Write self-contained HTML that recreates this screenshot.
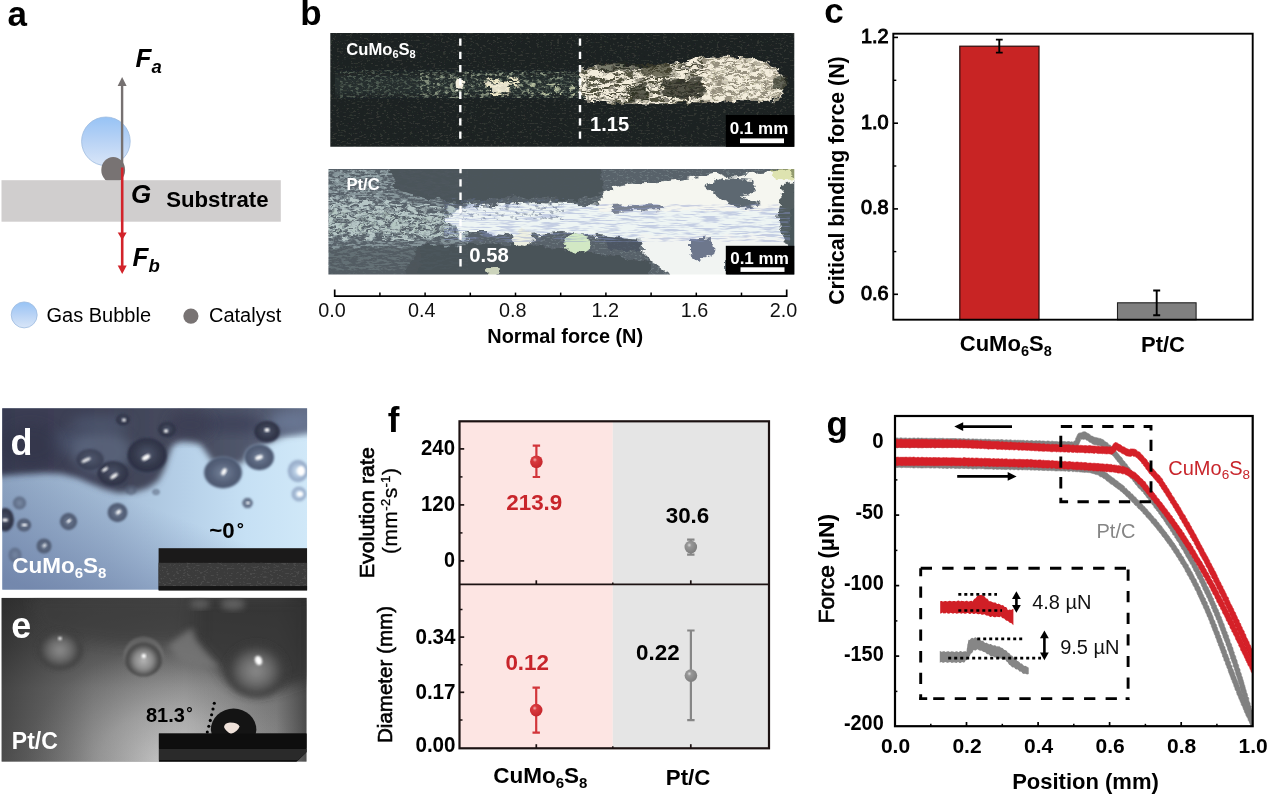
<!DOCTYPE html>
<html lang="en"><head><meta charset="utf-8"><title>Figure</title>
<style>
html,body{margin:0;padding:0;background:#fff;}
body{width:1268px;height:795px;overflow:hidden;}
svg{display:block;font-family:"Liberation Sans", sans-serif;}
</style></head><body>
<svg width="1268" height="795" viewBox="0 0 1268 795">
<defs>
<linearGradient id="bub" x1="0" y1="0" x2="0" y2="1"><stop offset="0" stop-color="#97c3f5"/><stop offset="0.5" stop-color="#b9d3f5"/><stop offset="1" stop-color="#d9e6f8"/></linearGradient>
<clipPath id="catclip"><rect x="90" y="150" width="50" height="30.2"/></clipPath>
<filter id="rough" x="-5%" y="-10%" width="110%" height="120%"><feTurbulence type="fractalNoise" baseFrequency="0.12 0.2" numOctaves="3" seed="4" result="n"/><feDisplacementMap in="SourceGraphic" in2="n" scale="9" xChannelSelector="R" yChannelSelector="G"/><feGaussianBlur stdDeviation="0.6"/></filter>
<filter id="rough2" x="-5%" y="-10%" width="110%" height="120%"><feTurbulence type="fractalNoise" baseFrequency="0.09 0.16" numOctaves="3" seed="11" result="n"/><feDisplacementMap in="SourceGraphic" in2="n" scale="10" xChannelSelector="R" yChannelSelector="G"/><feGaussianBlur stdDeviation="0.7"/></filter>
<filter id="spA" x="0" y="0" width="100%" height="100%"><feTurbulence type="fractalNoise" baseFrequency="0.25 0.5" numOctaves="3" seed="3" result="n"/><feColorMatrix in="n" type="matrix" values="0 0 0 0 1  0 0 0 0 1  0 0 0 0 1  0 0 0 6 -3.1" result="a"/><feComposite in="SourceGraphic" in2="a" operator="in"/><feGaussianBlur stdDeviation="0.55"/></filter>
<filter id="spB" x="0" y="0" width="100%" height="100%"><feTurbulence type="fractalNoise" baseFrequency="0.12 0.45" numOctaves="3" seed="8" result="n"/><feColorMatrix in="n" type="matrix" values="0 0 0 0 1  0 0 0 0 1  0 0 0 0 1  0 0 0 7 -3.2" result="a"/><feComposite in="SourceGraphic" in2="a" operator="in"/><feGaussianBlur stdDeviation="0.55"/></filter>
<filter id="spC" x="0" y="0" width="100%" height="100%"><feTurbulence type="fractalNoise" baseFrequency="0.3 0.6" numOctaves="3" seed="21" result="n"/><feColorMatrix in="n" type="matrix" values="0 0 0 0 1  0 0 0 0 1  0 0 0 0 1  0 0 0 8 -4.6" result="a"/><feComposite in="SourceGraphic" in2="a" operator="in"/><feGaussianBlur stdDeviation="0.55"/></filter>
<filter id="spD" x="0" y="0" width="100%" height="100%"><feTurbulence type="fractalNoise" baseFrequency="0.08 0.5" numOctaves="3" seed="5" result="n"/><feColorMatrix in="n" type="matrix" values="0 0 0 0 1  0 0 0 0 1  0 0 0 0 1  0 0 0 6 -2.6" result="a"/><feComposite in="SourceGraphic" in2="a" operator="in"/><feGaussianBlur stdDeviation="0.55"/></filter>
<filter id="spE" x="0" y="0" width="100%" height="100%"><feTurbulence type="fractalNoise" baseFrequency="0.2 0.3" numOctaves="3" seed="15" result="n"/><feColorMatrix in="n" type="matrix" values="0 0 0 0 1  0 0 0 0 1  0 0 0 0 1  0 0 0 7 -3.9" result="a"/><feComposite in="SourceGraphic" in2="a" operator="in"/><feGaussianBlur stdDeviation="0.55"/></filter>
<filter id="spF" x="0" y="0" width="100%" height="100%"><feTurbulence type="fractalNoise" baseFrequency="0.05 0.6" numOctaves="3" seed="9" result="n"/><feColorMatrix in="n" type="matrix" values="0 0 0 0 1  0 0 0 0 1  0 0 0 0 1  0 0 0 5 -2.3" result="a"/><feComposite in="SourceGraphic" in2="a" operator="in"/><feGaussianBlur stdDeviation="0.55"/></filter>
<clipPath id="cb1"><rect x="330.3" y="33" width="464" height="113.8"/></clipPath>
<clipPath id="cb2"><rect x="328.4" y="168.9" width="465.9" height="105.6"/></clipPath>
<linearGradient id="b1band" x1="0" y1="0" x2="0" y2="1"><stop offset="0" stop-color="#2e3a38" stop-opacity="0"/><stop offset="0.4" stop-color="#3a4a46" stop-opacity="1"/><stop offset="0.7" stop-color="#3a4a46" stop-opacity="1"/><stop offset="1" stop-color="#2e3a38" stop-opacity="0"/></linearGradient>
<filter id="soft1" x="0" y="0" width="100%" height="100%"><feGaussianBlur stdDeviation="0.7"/></filter>
<filter id="soft" x="0" y="0" width="100%" height="100%"><feGaussianBlur stdDeviation="0.7"/></filter>
<clipPath id="cd"><rect x="2.2" y="408.2" width="304.90000000000003" height="181.59999999999997"/></clipPath>
<linearGradient id="dbg" x1="0" y1="0" x2="1" y2="0"><stop offset="0" stop-color="#93aac6"/><stop offset="0.35" stop-color="#a4bcd6"/><stop offset="0.6" stop-color="#b6d0e8"/><stop offset="0.8" stop-color="#c6e0f4"/><stop offset="1" stop-color="#d0e8f8"/></linearGradient>
<linearGradient id="dbg2" x1="0.75" y1="0" x2="0.1" y2="1"><stop offset="0" stop-color="#7388ae" stop-opacity="0"/><stop offset="0.5" stop-color="#7388ae" stop-opacity="0"/><stop offset="1" stop-color="#7084aa" stop-opacity="0.9"/></linearGradient>
<linearGradient id="ddark" x1="0" y1="0" x2="1" y2="0"><stop offset="0" stop-color="#383a50"/><stop offset="0.3" stop-color="#3e4156"/><stop offset="0.6" stop-color="#474b5e"/><stop offset="0.85" stop-color="#545c72"/><stop offset="1" stop-color="#6a7690"/></linearGradient>
<filter id="bl3" x="-20%" y="-20%" width="140%" height="140%"><feGaussianBlur stdDeviation="3"/></filter>
<filter id="bl2" x="-20%" y="-20%" width="140%" height="140%"><feGaussianBlur stdDeviation="2"/></filter>
<filter id="bl1" x="-20%" y="-20%" width="140%" height="140%"><feGaussianBlur stdDeviation="1"/></filter>
<filter id="bl6" x="-30%" y="-30%" width="160%" height="160%"><feGaussianBlur stdDeviation="6"/></filter>
<filter id="bl10" x="-40%" y="-40%" width="180%" height="180%"><feGaussianBlur stdDeviation="10"/></filter>
<radialGradient id="dbub" cx="0.5" cy="0.45" r="0.55"><stop offset="0" stop-color="#4c546a"/><stop offset="0.55" stop-color="#363b4e"/><stop offset="0.85" stop-color="#2c3044"/><stop offset="1" stop-color="#465068" stop-opacity="0.6"/></radialGradient>
<radialGradient id="dbub2" cx="0.5" cy="0.5" r="0.5"><stop offset="0" stop-color="#74829a"/><stop offset="0.6" stop-color="#56627a"/><stop offset="0.9" stop-color="#4c5870"/><stop offset="1" stop-color="#8ea4c2" stop-opacity="0.3"/></radialGradient>
<radialGradient id="dbub3" cx="0.5" cy="0.5" r="0.5"><stop offset="0" stop-color="#dcebf8"/><stop offset="0.5" stop-color="#a8bcd6"/><stop offset="0.85" stop-color="#8ea2c0"/><stop offset="1" stop-color="#b4cce6" stop-opacity="0.2"/></radialGradient>
<clipPath id="ce"><rect x="1.4" y="597.8" width="305.3" height="164.0"/></clipPath>
<linearGradient id="ebg" x1="0" y1="0" x2="0" y2="1"><stop offset="0" stop-color="#444"/><stop offset="0.3" stop-color="#5c5c5c"/><stop offset="0.55" stop-color="#7c7c7c"/><stop offset="1" stop-color="#8e8e8e"/></linearGradient>
<radialGradient id="elight" cx="0.5" cy="0.5" r="0.5"><stop offset="0" stop-color="#cacaca" stop-opacity="1"/><stop offset="0.45" stop-color="#b8b8b8" stop-opacity="0.75"/><stop offset="1" stop-color="#a0a0a0" stop-opacity="0"/></radialGradient>
<linearGradient id="eleft" x1="0" y1="0" x2="1" y2="0"><stop offset="0" stop-color="#1e1e1e" stop-opacity="0.6"/><stop offset="0.3" stop-color="#2a2a2a" stop-opacity="0.2"/><stop offset="0.6" stop-color="#2a2a2a" stop-opacity="0"/><stop offset="0.9" stop-color="#2a2a2a" stop-opacity="0.1"/><stop offset="1" stop-color="#1a1a1a" stop-opacity="0.55"/></linearGradient>
<radialGradient id="ebub" cx="0.5" cy="0.55" r="0.5"><stop offset="0" stop-color="#8c8c8c"/><stop offset="0.45" stop-color="#6a6a6a"/><stop offset="0.8" stop-color="#3f3f3f"/><stop offset="1" stop-color="#3a3a3a" stop-opacity="0"/></radialGradient>
<radialGradient id="ebub2" cx="0.5" cy="0.6" r="0.5"><stop offset="0" stop-color="#b4b4b4"/><stop offset="0.45" stop-color="#8a8a8a"/><stop offset="0.78" stop-color="#4a4a4a"/><stop offset="0.92" stop-color="#555"/><stop offset="1" stop-color="#8a8a8a" stop-opacity="0.4"/></radialGradient>
<radialGradient id="ballr" cx="0.38" cy="0.35" r="0.7"><stop offset="0" stop-color="#f3b0b0"/><stop offset="0.25" stop-color="#d83a3e"/><stop offset="1" stop-color="#c4242a"/></radialGradient>
<radialGradient id="ballg" cx="0.38" cy="0.35" r="0.7"><stop offset="0" stop-color="#d8d8d8"/><stop offset="0.25" stop-color="#969696"/><stop offset="1" stop-color="#7c7c7c"/></radialGradient>
<clipPath id="cg"><rect x="895" y="416" width="357.70000000000005" height="310.20000000000005"/></clipPath>
</defs>
<rect width="1268" height="795" fill="#fff"/>
<g id="panel-a">
<text x="7.5" y="25.9" font-size="35" font-weight="bold" font-style="normal" fill="#000" text-anchor="start">a</text>
<rect x="1.5" y="180.2" width="279.3" height="41.5" fill="#d0cece"/>
<circle cx="105.9" cy="141.3" r="24.3" fill="url(#bub)" stroke="#9dbbe0" stroke-width="0.8"/>
<ellipse cx="113.2" cy="170" rx="11.9" ry="13" fill="#787373" clip-path="url(#catclip)"/>
<line x1="122.1" y1="168" x2="122.1" y2="84" stroke="#767171" stroke-width="2.4"/>
<polygon points="122.1,77 117.6,86 126.6,86" fill="#767171"/>
<line x1="122.2" y1="167.5" x2="122.2" y2="267" stroke="#d2232a" stroke-width="2.6"/>
<polygon points="122.2,240 117.7,232.5 126.7,232.5" fill="#d2232a"/>
<polygon points="122.2,274 117.7,265.5 126.7,265.5" fill="#d2232a"/>
<text x="135.5" y="67.1" font-size="26" font-weight="bold" font-style="italic" fill="#000" text-anchor="start">F<tspan font-size="18.5" dy="5.5">a</tspan></text>
<text x="131" y="203.3" font-size="26" font-weight="bold" font-style="italic" fill="#000" text-anchor="start">G</text>
<text x="132.5" y="265.6" font-size="26" font-weight="bold" font-style="italic" fill="#000" text-anchor="start">F<tspan font-size="18.5" dy="6">b</tspan></text>
<text x="166.2" y="207.3" font-size="22.2" font-weight="bold" font-style="normal" fill="#000" text-anchor="start">Substrate</text>
<circle cx="24.2" cy="314.9" r="13" fill="url(#bub)" stroke="#9dbbe0" stroke-width="0.8"/>
<text x="46.5" y="321.9" font-size="20" font-weight="normal" font-style="normal" fill="#000" text-anchor="start">Gas Bubble</text>
<circle cx="190.9" cy="316.1" r="7.6" fill="#787373"/>
<text x="209" y="321.9" font-size="20" font-weight="normal" font-style="normal" fill="#000" text-anchor="start">Catalyst</text>
</g>
<g id="panel-b">
<text x="300.3" y="24.7" font-size="35" font-weight="bold" font-style="normal" fill="#000" text-anchor="start">b</text>
<g clip-path="url(#cb1)"><g filter="url(#soft1)">
<rect x="320" y="23" width="485" height="134" fill="#1b2022"/>
<rect x="330" y="33" width="465" height="114" fill="#3a4038" filter="url(#spC)" opacity="0.7"/>
<rect x="335" y="66" width="250" height="36" fill="url(#b1band)" opacity="0.35"/>
<rect x="340" y="70" width="245" height="28" fill="#7f927f" filter="url(#spA)" opacity="0.42"/>
<rect x="420" y="72" width="165" height="26" fill="#a8b49a" filter="url(#spE)" opacity="0.7"/>
<g filter="url(#rough)">
<ellipse cx="459" cy="84" rx="4.5" ry="6" fill="#f4efe0"/>
<path d="M484,84 L492,79 L506,80 L512,76 L518,80 L520,84 L510,88 L512,94 L500,96 L490,94 Z" fill="#ece6c6" filter="url(#spD)"/>
<path d="M486,84 L500,81 L508,83 L508,90 L496,92 Z" fill="#f2ecd6" opacity="0.9"/>
<path d="M528,82 L560,84 L578,84 L578,96 L550,97 L528,94 Z" fill="#b8c0a0" filter="url(#spE)"/>
<path d="M579,83 L579,70 L607,63.5 L645,67.7 L677,62 L702,56.6 L740,57 L768,62 L779.6,71.5 L785,83 L781.5,97 L768,102 L730,101 L692.5,102.8 L654.6,103.5 L616.8,103.5 L584.6,100 L579,90.5 Z" fill="#f3eddc"/>
</g>
<g filter="url(#rough)">
<path d="M579,83 L579,70 L607,63.5 L645,67.7 L677,62 L702,56.6 L706,80 L704,102.6 L692.5,102.8 L654.6,103.5 L616.8,103.5 L584.6,100 L579,90.5 Z" fill="#2a2a1c" filter="url(#spD)" opacity="0.8"/>
<path d="M702,56.6 L740,57 L768,62 L779.6,71.5 L785,83 L781.5,97 L768,102 L730,101 L704,102.6 Z" fill="#3a3620" filter="url(#spD)" opacity="0.5"/>
<path d="M662,80 L700,78 L706,92 L690,99 L664,97 Z" fill="#2a2c22" opacity="0.8"/>
<path d="M628,86 L646,84 L648,100 L630,101 Z" fill="#2a2c22" opacity="0.75"/>
<path d="M640,64 L672,64 L670,76 L642,75 Z" fill="#3a3a28" opacity="0.7"/>
<path d="M596,62 L640,64 L640,70 L600,72 Z" fill="#2a2c22" opacity="0.6"/>
<path d="M772,78 L786,76 L786,90 L774,88 Z" fill="#2a2c22" opacity="0.7"/>
</g>
</g></g>
<line x1="460.3" y1="38.4" x2="460.3" y2="143" stroke="#fff" stroke-width="2.4" stroke-dasharray="7.3 6"/>
<line x1="580" y1="38.4" x2="580" y2="143" stroke="#fff" stroke-width="2.4" stroke-dasharray="7.3 6"/>
<text x="346.3" y="55" font-size="16.6" font-weight="bold" font-style="normal" fill="#fff" text-anchor="start">CuMo<tspan font-size="11" dy="3.2">6</tspan><tspan dy="-3.2">S</tspan><tspan font-size="11" dy="3.2">8</tspan></text>
<text x="590" y="130.8" font-size="20.1" font-weight="bold" font-style="normal" fill="#fff" text-anchor="start">1.15</text>
<rect x="725.8" y="115" width="68.5" height="31.8" fill="#000"/>
<text x="729.7" y="134.3" font-size="17" font-weight="bold" font-style="normal" fill="#fff" text-anchor="start">0.1 mm</text>
<rect x="740" y="138.4" width="44" height="4.8" fill="#fff"/>
<g clip-path="url(#cb2)"><g filter="url(#soft)">
<rect x="320" y="160" width="485" height="125" fill="#59626a"/>
<rect x="328" y="168" width="467" height="107" fill="#78868a" filter="url(#spC)" opacity="0.6"/>
<rect x="328" y="170" width="140" height="100" fill="#93a4a8" filter="url(#spB)" opacity="0.75"/>
<rect x="328" y="170" width="60" height="40" fill="#a8b8bc" filter="url(#spA)" opacity="0.7"/>
<g filter="url(#rough2)">
<path d="M328,198 L380,200 L420,204 L450,208 L470,204 L470,240 L440,238 L400,240 L360,238 L328,240 Z" fill="#b6c6c6" filter="url(#spB)"/>
<path d="M328,210 L380,212 L420,216 L450,218 L450,236 L400,236 L328,234 Z" fill="#b4c8c0" filter="url(#spA)" opacity="0.7"/>
<path d="M390,165 L470,165 L600,165 L604,192 L580,200 L560,200 L520,196 L480,200 L450,202 L420,196 L395,190 Z" fill="#4a5258" opacity="0.92"/>
<path d="M420,246 L520,244 L580,250 L650,262 L650,280 L400,280 Z" fill="#485056" opacity="0.92"/>
<path d="M328,246 L420,248 L420,280 L328,280 Z" fill="#4e585e" opacity="0.6"/>
<path d="M444,218 L462,208 L500,204 L540,202 L600,206 L790,204 L790,240 L640,240 L600,236 L560,232 L520,236 L490,232 L462,232 Z" fill="#eef5f4"/>
<path d="M598,204 L606,190 L630,184 L660,182 L700,176 L716,172 L730,178 L760,172 L790,170 L794,180 L794,210 L600,212 Z" fill="#f5f6f0"/>
<path d="M640,236 L790,236 L790,260 L726,262 L726,280 L676,280 L652,262 L640,250 Z" fill="#f1f4f2"/>
<ellipse cx="578" cy="244" rx="13" ry="10" fill="#d2e8c4"/>
<ellipse cx="523" cy="238" rx="10" ry="9" fill="#eef0e2"/>
<ellipse cx="493" cy="271" rx="8" ry="5" fill="#ccd4bc"/>
</g>
<g filter="url(#rough2)">
<path d="M706,186 L722,178 L752,180 L756,190 L740,196 L760,204 L740,208 L722,200 Z" fill="#4c5864" opacity="0.9"/>
<path d="M782,184 L800,180 L800,250 L784,244 L778,220 Z" fill="#4a545a" opacity="0.95"/>
<path d="M690,240 L712,238 L716,252 L700,262 L690,254 Z" fill="#56607a" opacity="0.85"/>
<path d="M610,206 L660,204 L662,210 L612,212 Z" fill="#5a6478" opacity="0.8"/>
<path d="M600,238 L640,240 L646,250 L610,250 Z" fill="#4a5462" opacity="0.8"/>
<path d="M770,170 L796,168 L796,178 L774,180 Z" fill="#c8d070" opacity="0.5"/>
</g>
<rect x="444" y="204" width="346" height="38" fill="#8896cc" filter="url(#spF)" opacity="0.4"/>
<rect x="444" y="198" width="120" height="22" fill="#5c6a84" filter="url(#spE)" opacity="0.5"/>
</g></g>
<line x1="460.5" y1="169" x2="460.5" y2="268.5" stroke="#fff" stroke-width="2.4" stroke-dasharray="7.3 6" stroke-dashoffset="3"/>
<text x="346.5" y="190.4" font-size="16.6" font-weight="bold" font-style="normal" fill="#fff" text-anchor="start">Pt/C</text>
<text x="469.3" y="261.7" font-size="20.3" font-weight="bold" font-style="normal" fill="#fff" text-anchor="start">0.58</text>
<rect x="725.8" y="245.8" width="68.5" height="28.7" fill="#000"/>
<text x="730.2" y="264.3" font-size="17" font-weight="bold" font-style="normal" fill="#fff" text-anchor="start">0.1 mm</text>
<rect x="740.5" y="267.3" width="44" height="4.6" fill="#fff"/>
<path d="M334.7,289.4 V296.2 H786.7 V289.4" fill="none" stroke="#000" stroke-width="1.7"/>
<line x1="379.9" y1="292.6" x2="379.9" y2="296.2" stroke="#000" stroke-width="1.5"/>
<line x1="425.1" y1="292.6" x2="425.1" y2="296.2" stroke="#000" stroke-width="1.5"/>
<line x1="470.3" y1="292.6" x2="470.3" y2="296.2" stroke="#000" stroke-width="1.5"/>
<line x1="515.5" y1="292.6" x2="515.5" y2="296.2" stroke="#000" stroke-width="1.5"/>
<line x1="560.7" y1="292.6" x2="560.7" y2="296.2" stroke="#000" stroke-width="1.5"/>
<line x1="605.9" y1="292.6" x2="605.9" y2="296.2" stroke="#000" stroke-width="1.5"/>
<line x1="651.1" y1="292.6" x2="651.1" y2="296.2" stroke="#000" stroke-width="1.5"/>
<line x1="696.3" y1="292.6" x2="696.3" y2="296.2" stroke="#000" stroke-width="1.5"/>
<line x1="741.5" y1="292.6" x2="741.5" y2="296.2" stroke="#000" stroke-width="1.5"/>
<text x="332" y="317.3" font-size="19.8" font-weight="normal" font-style="normal" fill="#111" text-anchor="middle">0.0</text>
<text x="421.7" y="317.3" font-size="19.8" font-weight="normal" font-style="normal" fill="#111" text-anchor="middle">0.4</text>
<text x="512.7" y="317.3" font-size="19.8" font-weight="normal" font-style="normal" fill="#111" text-anchor="middle">0.8</text>
<text x="605.3" y="317.3" font-size="19.8" font-weight="normal" font-style="normal" fill="#111" text-anchor="middle">1.2</text>
<text x="694.6" y="317.3" font-size="19.8" font-weight="normal" font-style="normal" fill="#111" text-anchor="middle">1.6</text>
<text x="783.5" y="317.3" font-size="19.8" font-weight="normal" font-style="normal" fill="#111" text-anchor="middle">2.0</text>
<text x="565.2" y="342.9" font-size="19.9" font-weight="bold" font-style="normal" fill="#000" text-anchor="middle">Normal force (N)</text>
</g>
<g id="panel-c">
<text x="824.3" y="23.3" font-size="35" font-weight="bold" font-style="normal" fill="#000" text-anchor="start">c</text>
<rect x="959.8" y="46.2" width="79.2" height="273.5" fill="#c82424" stroke="#2a0c0c" stroke-width="1.2"/>
<rect x="1117.5" y="302.8" width="78.6" height="17" fill="#808080" stroke="#222" stroke-width="1.1"/>
<rect x="893.3" y="33.7" width="359.4" height="286" fill="none" stroke="#000" stroke-width="1.9"/>
<line x1="894" y1="37.4" x2="898" y2="37.4" stroke="#000" stroke-width="1.6"/>
<text x="861.0" y="42.9" font-size="20.2" font-weight="normal" font-style="normal" fill="#000" text-anchor="start" stroke="#000" stroke-width="1.0" textLength="27.6" lengthAdjust="spacingAndGlyphs">1.2</text>
<line x1="894" y1="123.2" x2="898" y2="123.2" stroke="#000" stroke-width="1.6"/>
<text x="861.0" y="128.7" font-size="20.2" font-weight="normal" font-style="normal" fill="#000" text-anchor="start" stroke="#000" stroke-width="1.0" textLength="27.6" lengthAdjust="spacingAndGlyphs">1.0</text>
<line x1="894" y1="208.9" x2="898" y2="208.9" stroke="#000" stroke-width="1.6"/>
<text x="861.0" y="214.4" font-size="20.2" font-weight="normal" font-style="normal" fill="#000" text-anchor="start" stroke="#000" stroke-width="1.0" textLength="27.6" lengthAdjust="spacingAndGlyphs">0.8</text>
<line x1="894" y1="294.3" x2="898" y2="294.3" stroke="#000" stroke-width="1.6"/>
<text x="861.0" y="299.8" font-size="20.2" font-weight="normal" font-style="normal" fill="#000" text-anchor="start" stroke="#000" stroke-width="1.0" textLength="27.6" lengthAdjust="spacingAndGlyphs">0.6</text>
<line x1="894" y1="80.3" x2="896.3" y2="80.3" stroke="#000" stroke-width="1.4"/>
<line x1="894" y1="166" x2="896.3" y2="166" stroke="#000" stroke-width="1.4"/>
<line x1="894" y1="251.6" x2="896.3" y2="251.6" stroke="#000" stroke-width="1.4"/>
<path d="M995.9,39.6 H1002.6999999999999 M999.3,39.6 V52.6 M995.9,52.6 H1002.6999999999999" fill="none" stroke="#000" stroke-width="1.9"/>
<path d="M1153.2,290.5 H1160.2 M1156.7,290.5 V315.3 M1153.2,315.3 H1160.2" fill="none" stroke="#000" stroke-width="1.9"/>
<text x="959.8" y="351" font-size="22" font-weight="bold" font-style="normal" fill="#000" text-anchor="start">CuMo<tspan font-size="14.5" dy="4.6">6</tspan><tspan dy="-4.6">S</tspan><tspan font-size="14.5" dy="4.6">8</tspan></text>
<text x="1141" y="352" font-size="22" font-weight="bold" font-style="normal" fill="#000" text-anchor="start">Pt/C</text>
<text x="844" y="304.8" font-size="21.3" font-weight="bold" font-style="normal" fill="#000" text-anchor="start" transform="rotate(-90 844 304.8)">Critical binding force (N)</text>
</g>
<g id="panel-d">
<g clip-path="url(#cd)">
<rect x="2.2" y="408.2" width="304.90000000000003" height="181.59999999999997" fill="url(#dbg)"/>
<rect x="2.2" y="408.2" width="304.90000000000003" height="181.59999999999997" fill="url(#dbg2)"/>
<path d="M-10,395 H320 V432 L300,434 L285,436 L275,440 L262,446 L250,450 L244,462 L232,466 L214,464 L206,452 L200,444 L190,441 L180,441 L172,446 L168,458 L164,470 L158,481 L148,488 L135,492 L118,493 L104,489 L92,484 L78,478 L62,474 L45,473 L25,474 L-10,477 Z" fill="url(#ddark)" filter="url(#bl3)"/>
<ellipse cx="70" cy="442" rx="22" ry="12" fill="#4e5670" opacity="0.7" filter="url(#bl6)"/>
<ellipse cx="102" cy="452" rx="30" ry="22" fill="#5e6a82" opacity="0.75" filter="url(#bl6)"/>
<ellipse cx="30" cy="445" rx="30" ry="22" fill="#32344a" opacity="0.6" filter="url(#bl6)"/>
<ellipse cx="100" cy="424" rx="30" ry="9" fill="#505a72" opacity="0.7" filter="url(#bl6)"/>
<ellipse cx="232" cy="424" rx="30" ry="10" fill="#3c4058" opacity="0.8" filter="url(#bl6)"/>
<ellipse cx="290" cy="422" rx="20" ry="10" fill="#6c7a98" opacity="0.8" filter="url(#bl6)"/>
<ellipse cx="190" cy="425" rx="22" ry="14" fill="#3a3c52" opacity="0.8" filter="url(#bl6)"/>
<ellipse cx="147" cy="456" rx="20" ry="18" fill="url(#dbub)" filter="url(#bl1)" opacity="1"/>
<ellipse cx="146" cy="457.5" rx="4.5" ry="2.4" fill="#fff" transform="rotate(-30 146 457.5)" filter="url(#bl1)"/>
<ellipse cx="113" cy="474" rx="16" ry="13" fill="url(#dbub)" filter="url(#bl1)" opacity="0.85"/>
<ellipse cx="114" cy="476" rx="4.5" ry="1.8" fill="#fff" transform="rotate(-35 114 476)" filter="url(#bl1)"/>
<ellipse cx="105" cy="469.5" rx="3.5" ry="1.4" fill="#fff" transform="rotate(-35 105 469.5)" filter="url(#bl1)"/>
<ellipse cx="90" cy="460" rx="14" ry="11" fill="url(#dbub)" filter="url(#bl1)" opacity="0.6"/>
<ellipse cx="86" cy="460" rx="5" ry="1.6" fill="#fff" transform="rotate(-25 86 460)" filter="url(#bl1)"/>
<ellipse cx="223" cy="472.6" rx="20" ry="16.5" fill="url(#dbub2)" filter="url(#bl1)" opacity="1"/>
<ellipse cx="224" cy="471.8" rx="3.8" ry="2.2" fill="#fff" transform="rotate(-60 224 471.8)" filter="url(#bl1)"/>
<ellipse cx="259.3" cy="457.3" rx="15.5" ry="13.5" fill="url(#dbub2)" filter="url(#bl1)" opacity="1"/>
<ellipse cx="259" cy="457.5" rx="4" ry="2.2" fill="#fff" transform="rotate(-20 259 457.5)" filter="url(#bl1)"/>
<ellipse cx="267" cy="432" rx="13" ry="11" fill="url(#dbub)" filter="url(#bl1)" opacity="1"/>
<ellipse cx="267" cy="430" rx="2.6" ry="2" fill="#fff" transform="rotate(0 267 430)" filter="url(#bl1)"/>
<ellipse cx="167" cy="430" rx="9" ry="8" fill="url(#dbub)" filter="url(#bl1)" opacity="1"/>
<ellipse cx="166" cy="431" rx="2.2" ry="1.8" fill="#fff" transform="rotate(0 166 431)" filter="url(#bl1)"/>
<ellipse cx="123" cy="420" rx="7" ry="6" fill="url(#dbub)" filter="url(#bl1)" opacity="1"/>
<ellipse cx="124" cy="420" rx="2" ry="1.5" fill="#fff" transform="rotate(0 124 420)" filter="url(#bl1)"/>
<ellipse cx="298" cy="471" rx="11" ry="12" fill="url(#dbub3)" filter="url(#bl1)" opacity="0.9"/>
<ellipse cx="301" cy="471" rx="4" ry="5" fill="#fff" transform="rotate(0 301 471)" filter="url(#bl1)"/>
<ellipse cx="299" cy="494" rx="8" ry="8" fill="url(#dbub3)" filter="url(#bl1)" opacity="0.9"/>
<ellipse cx="300" cy="494" rx="3" ry="2.5" fill="#fff" transform="rotate(0 300 494)" filter="url(#bl1)"/>
<ellipse cx="117.5" cy="512.5" rx="10.5" ry="10" fill="url(#dbub2)" filter="url(#bl1)" opacity="1"/>
<ellipse cx="118.5" cy="512" rx="3" ry="1.8" fill="#fff" transform="rotate(-40 118.5 512)" filter="url(#bl1)"/>
<ellipse cx="68.5" cy="521.5" rx="9" ry="9" fill="url(#dbub2)" filter="url(#bl1)" opacity="1"/>
<ellipse cx="69" cy="521" rx="2.5" ry="1.4" fill="#fff" transform="rotate(-40 69 521)" filter="url(#bl1)"/>
<ellipse cx="24" cy="525" rx="7.5" ry="7" fill="url(#dbub2)" filter="url(#bl1)" opacity="1"/>
<ellipse cx="24.5" cy="525" rx="2.8" ry="1.3" fill="#fff" transform="rotate(0 24.5 525)" filter="url(#bl1)"/>
<ellipse cx="19.5" cy="503" rx="7" ry="7" fill="url(#dbub2)" filter="url(#bl1)" opacity="0.7"/>
<ellipse cx="44" cy="546" rx="8" ry="8" fill="url(#dbub2)" filter="url(#bl1)" opacity="1"/>
<ellipse cx="44.5" cy="545.5" rx="2.2" ry="1.3" fill="#fff" transform="rotate(-40 44.5 545.5)" filter="url(#bl1)"/>
<ellipse cx="5" cy="520" rx="9" ry="12" fill="url(#dbub)" filter="url(#bl1)" opacity="1"/>
<ellipse cx="5" cy="520" rx="3" ry="1.5" fill="#fff" transform="rotate(0 5 520)" filter="url(#bl1)"/>
<ellipse cx="247.5" cy="503" rx="5.5" ry="5.5" fill="url(#dbub2)" filter="url(#bl1)" opacity="0.85"/>
<ellipse cx="248" cy="503" rx="1.6" ry="1.4" fill="#fff" transform="rotate(0 248 503)" filter="url(#bl1)"/>
<ellipse cx="15" cy="555" rx="7" ry="8" fill="url(#dbub2)" filter="url(#bl1)" opacity="0.6"/>
<ellipse cx="131" cy="490" rx="6" ry="5" fill="url(#dbub2)" filter="url(#bl1)" opacity="0.6"/>
<ellipse cx="156" cy="492" rx="4" ry="3.5" fill="url(#dbub2)" filter="url(#bl1)" opacity="0.6"/>
<rect x="158.6" y="548.2" width="149" height="42" fill="#1b1a1a"/>
<rect x="158.6" y="562.8" width="149" height="23.4" fill="#3b3b3b"/>
<rect x="158.6" y="562.8" width="149" height="23.4" fill="#505050" filter="url(#spC)" opacity="0.8"/>
</g>
<rect x="158.6" y="586.2" width="148.5" height="4.4" fill="#151515"/>
<text x="10.6" y="455.4" font-size="36" font-weight="bold" font-style="normal" fill="#fff" text-anchor="start">d</text>
<text x="12.2" y="573" font-size="22.5" font-weight="bold" font-style="normal" fill="#fff" text-anchor="start">CuMo<tspan font-size="15" dy="4.8">6</tspan><tspan dy="-4.8">S</tspan><tspan font-size="15" dy="4.8">8</tspan></text>
<text x="209.3" y="538" font-size="22.3" font-weight="bold" font-style="normal" fill="#000" text-anchor="start">~0<tspan font-size="18" dy="-2.8" dx="2">°</tspan></text>
</g>
<g id="panel-e">
<g clip-path="url(#ce)">
<rect x="1.4" y="597.8" width="305.3" height="164.0" fill="url(#ebg)"/>
<ellipse cx="160" cy="765" rx="135" ry="115" fill="url(#elight)"/>
<rect x="1.4" y="597.8" width="305.3" height="164.0" fill="url(#eleft)"/>
<path d="M190,598 H310 V680 L295,684 L280,690 L260,694 L240,690 L226,680 L215,664 L205,652 L192,640 L186,628 Z" fill="#333" opacity="0.8" filter="url(#bl6)"/>
<path d="M30,598 H200 V640 L170,642 L120,644 L90,640 L60,636 L40,628 Z" fill="#3c3c3c" opacity="0.7" filter="url(#bl6)"/>
<path d="M168,646 L180,636 L192,628 L196,640 L206,654 L220,668 L200,668 L180,662 Z" fill="#757575" opacity="0.9" filter="url(#bl3)"/>
<ellipse cx="60" cy="648" rx="25" ry="22" fill="url(#ebub)" filter="url(#bl2)"/>
<circle cx="60" cy="638.5" r="1.8" fill="#eee" filter="url(#bl1)"/>
<circle cx="143.5" cy="656.5" r="20" fill="url(#ebub2)" filter="url(#bl1)"/>
<circle cx="143.8" cy="656" r="2.2" fill="#fff" filter="url(#bl1)"/>
<ellipse cx="256" cy="668" rx="33" ry="30" fill="url(#ebub)" filter="url(#bl3)"/>
<ellipse cx="258.5" cy="660.5" rx="3.5" ry="4.8" fill="#fff" filter="url(#bl1)" transform="rotate(-20 258.5 660.5)"/>
<ellipse cx="200" cy="604" rx="10" ry="5" fill="#5c5c5c" filter="url(#bl3)"/>
<ellipse cx="233" cy="604" rx="12" ry="6" fill="#5e5e5e" filter="url(#bl3)"/>
<path d="M158.9,733.6 H306.7 V752 L296,762.4 H158.9 Z" fill="#0e0e0e"/>
<path d="M158.9,749 H306.7 V752 L298,760 H158.9 Z" fill="#2a2a2a"/>
<path d="M212,735 L210.8,730 A22.8,21.5 0 0 1 256.4,730 L255.5,735 Z" fill="#141414"/>
<path d="M224,727 Q224.5,723 230,722.6 Q238,722.6 239.6,726.5 Q238,731 231,734 Q225.5,731 224,727 Z" fill="#efe2da"/>
</g>
<rect x="158.9" y="733.6" width="147.5" height="15" fill="#0e0e0e"/>
<circle cx="214.3" cy="703.2" r="1.55" fill="#000"/>
<circle cx="213" cy="709" r="1.55" fill="#000"/>
<circle cx="211.6" cy="714.8" r="1.55" fill="#000"/>
<circle cx="210.3" cy="720.4" r="1.55" fill="#000"/>
<circle cx="208.8" cy="726.2" r="1.55" fill="#000"/>
<circle cx="207.3" cy="732" r="1.55" fill="#000"/>
<text x="11.3" y="638.2" font-size="36" font-weight="bold" font-style="normal" fill="#fff" text-anchor="start">e</text>
<text x="11.8" y="749" font-size="23" font-weight="bold" font-style="normal" fill="#fff" text-anchor="start">Pt/C</text>
<text x="146" y="722.3" font-size="20" font-weight="bold" font-style="normal" fill="#000" text-anchor="start">81.3<tspan font-size="16" dy="-3" dx="1.2">°</tspan></text>
</g>
<g id="panel-f">
<text x="387.8" y="432.3" font-size="35" font-weight="bold" font-style="normal" fill="#000" text-anchor="start">f</text>
<rect x="459.5" y="421.3" width="153.3" height="327" fill="#fde5e3"/>
<rect x="612.8" y="421.3" width="156.2" height="327" fill="#e5e5e5"/>
<rect x="459.5" y="421.3" width="309.5" height="327" fill="none" stroke="#1c1212" stroke-width="2.2"/>
<line x1="459.5" y1="584.4" x2="769" y2="584.4" stroke="#1c1212" stroke-width="1.8"/>
<line x1="460" y1="448.9" x2="464.2" y2="448.9" stroke="#1c1212" stroke-width="1.7"/>
<text x="421.0" y="455.4" font-size="21.6" font-weight="bold" font-style="normal" fill="#000" text-anchor="start" textLength="34.0" lengthAdjust="spacingAndGlyphs">240</text>
<line x1="460" y1="504.9" x2="464.2" y2="504.9" stroke="#1c1212" stroke-width="1.7"/>
<text x="421.0" y="511.4" font-size="21.6" font-weight="bold" font-style="normal" fill="#000" text-anchor="start" textLength="34.0" lengthAdjust="spacingAndGlyphs">120</text>
<line x1="460" y1="560.9" x2="464.2" y2="560.9" stroke="#1c1212" stroke-width="1.7"/>
<text x="444.0" y="567.4" font-size="21.6" font-weight="bold" font-style="normal" fill="#000" text-anchor="start" textLength="11.0" lengthAdjust="spacingAndGlyphs">0</text>
<line x1="460" y1="476.9" x2="462.5" y2="476.9" stroke="#1c1212" stroke-width="1.5"/>
<line x1="460" y1="532.9" x2="462.5" y2="532.9" stroke="#1c1212" stroke-width="1.5"/>
<line x1="460" y1="637.1" x2="464.2" y2="637.1" stroke="#1c1212" stroke-width="1.7"/>
<text x="415.40000000000003" y="643.7" font-size="21.6" font-weight="bold" font-style="normal" fill="#000" text-anchor="start" textLength="40.2" lengthAdjust="spacingAndGlyphs">0.34</text>
<line x1="460" y1="692.3" x2="464.2" y2="692.3" stroke="#1c1212" stroke-width="1.7"/>
<text x="415.40000000000003" y="698.9" font-size="21.6" font-weight="bold" font-style="normal" fill="#000" text-anchor="start" textLength="40.2" lengthAdjust="spacingAndGlyphs">0.17</text>
<text x="415.40000000000003" y="752.0" font-size="21.6" font-weight="bold" font-style="normal" fill="#000" text-anchor="start" textLength="40.2" lengthAdjust="spacingAndGlyphs">0.00</text>
<line x1="460" y1="609.5" x2="462.5" y2="609.5" stroke="#1c1212" stroke-width="1.5"/>
<line x1="460" y1="664.7" x2="462.5" y2="664.7" stroke="#1c1212" stroke-width="1.5"/>
<line x1="460" y1="720" x2="462.5" y2="720" stroke="#1c1212" stroke-width="1.5"/>
<line x1="536.3" y1="584.4" x2="536.3" y2="580.3" stroke="#1c1212" stroke-width="1.7"/>
<line x1="536.3" y1="748.3" x2="536.3" y2="744.2" stroke="#1c1212" stroke-width="1.7"/>
<line x1="690.8" y1="584.4" x2="690.8" y2="580.3" stroke="#1c1212" stroke-width="1.7"/>
<line x1="690.8" y1="748.3" x2="690.8" y2="744.2" stroke="#1c1212" stroke-width="1.7"/>
<line x1="612.8" y1="584.4" x2="612.8" y2="582.4" stroke="#1c1212" stroke-width="1.5"/>
<line x1="612.8" y1="748.3" x2="612.8" y2="746.3" stroke="#1c1212" stroke-width="1.5"/>
<path d="M532.6999999999999,445.6 H540.1 M536.4,445.6 V477 M532.6999999999999,477 H540.1" fill="none" stroke="#d2353a" stroke-width="2.2"/>
<circle cx="536.4" cy="461.7" r="6.3" fill="url(#ballr)"/>
<path d="M687.0999999999999,539.6 H694.5 M690.8,539.6 V554.6 M687.0999999999999,554.6 H694.5" fill="none" stroke="#868686" stroke-width="2.2"/>
<circle cx="690.8" cy="547" r="6.3" fill="url(#ballg)"/>
<path d="M532.5,687.7 H539.9000000000001 M536.2,687.7 V732.6 M532.5,732.6 H539.9000000000001" fill="none" stroke="#d2353a" stroke-width="2.2"/>
<circle cx="536.2" cy="710.1" r="6.3" fill="url(#ballr)"/>
<path d="M687.1999999999999,630.5 H694.6 M690.9,630.5 V720.2 M687.1999999999999,720.2 H694.6" fill="none" stroke="#868686" stroke-width="2.2"/>
<circle cx="690.9" cy="675.6" r="6.3" fill="url(#ballg)"/>
<text x="534.3" y="509.7" font-size="22.4" font-weight="bold" font-style="normal" fill="#c8252b" text-anchor="middle">213.9</text>
<text x="687.5" y="522.5" font-size="22.4" font-weight="bold" font-style="normal" fill="#000" text-anchor="middle">30.6</text>
<text x="527.2" y="669.8" font-size="22.4" font-weight="bold" font-style="normal" fill="#c8252b" text-anchor="middle">0.12</text>
<text x="657.8" y="659.6" font-size="22.4" font-weight="bold" font-style="normal" fill="#000" text-anchor="middle">0.22</text>
<text x="493.2" y="783.2" font-size="22.5" font-weight="bold" font-style="normal" fill="#000" text-anchor="start">CuMo<tspan font-size="15" dy="4.8">6</tspan><tspan dy="-4.8">S</tspan><tspan font-size="15" dy="4.8">8</tspan></text>
<text x="665.8" y="785.4" font-size="22.3" font-weight="bold" font-style="normal" fill="#000" text-anchor="start">Pt/C</text>
<text x="373.8" y="578.2" font-size="20.8" font-weight="normal" font-style="normal" fill="#000" text-anchor="start" transform="rotate(-90 373.8 578.2)" stroke="#000" stroke-width="0.65" textLength="131" lengthAdjust="spacingAndGlyphs">Evolution rate</text>
<text x="397" y="554" font-size="21" font-weight="normal" font-style="normal" fill="#000" text-anchor="start" transform="rotate(-90 397 554)" stroke="#000" stroke-width="0.3" letter-spacing="0.42">(mm<tspan font-size="13" dy="-7">-2</tspan><tspan dy="7">s</tspan><tspan font-size="13" dy="-7">-1</tspan><tspan dy="7">)</tspan></text>
<text x="392.4" y="743" font-size="21" font-weight="normal" font-style="normal" fill="#000" text-anchor="start" transform="rotate(-90 392.4 743)" stroke="#000" stroke-width="0.6" textLength="137" lengthAdjust="spacingAndGlyphs">Diameter (mm)</text>
</g>
<g id="panel-g">
<text x="826.5" y="435.6" font-size="35" font-weight="bold" font-style="normal" fill="#000" text-anchor="start">g</text>
<line x1="895" y1="444.6" x2="899.2" y2="444.6" stroke="#000" stroke-width="1.7"/>
<text x="872.3" y="448.1" font-size="21.3" font-weight="bold" font-style="normal" fill="#000" text-anchor="start" textLength="11.4" lengthAdjust="spacingAndGlyphs">0</text>
<line x1="895" y1="515.1" x2="899.2" y2="515.1" stroke="#000" stroke-width="1.7"/>
<text x="855.5" y="518.8" font-size="21.3" font-weight="bold" font-style="normal" fill="#000" text-anchor="start" textLength="28.2" lengthAdjust="spacingAndGlyphs">-50</text>
<line x1="895" y1="585.6" x2="899.2" y2="585.6" stroke="#000" stroke-width="1.7"/>
<text x="843.9" y="589.9" font-size="21.3" font-weight="bold" font-style="normal" fill="#000" text-anchor="start" textLength="39.8" lengthAdjust="spacingAndGlyphs">-100</text>
<line x1="895" y1="656.1" x2="899.2" y2="656.1" stroke="#000" stroke-width="1.7"/>
<text x="843.9" y="660.5" font-size="21.3" font-weight="bold" font-style="normal" fill="#000" text-anchor="start" textLength="39.8" lengthAdjust="spacingAndGlyphs">-150</text>
<text x="843.9" y="730.3" font-size="21.3" font-weight="bold" font-style="normal" fill="#000" text-anchor="start" textLength="39.8" lengthAdjust="spacingAndGlyphs">-200</text>
<line x1="895" y1="479.9" x2="897.4" y2="479.9" stroke="#000" stroke-width="1.5"/>
<line x1="895" y1="550.4" x2="897.4" y2="550.4" stroke="#000" stroke-width="1.5"/>
<line x1="895" y1="620.9" x2="897.4" y2="620.9" stroke="#000" stroke-width="1.5"/>
<line x1="895" y1="691.4" x2="897.4" y2="691.4" stroke="#000" stroke-width="1.5"/>
<g clip-path="url(#cg)" stroke-linejoin="round">
<path d="M895.0,438.5 L896.0,437.9 L897.0,437.9 L898.0,437.9 L899.0,438.5 L900.0,437.9 L901.0,437.8 L902.0,438.0 L903.0,438.4 L904.0,438.0 L905.0,438.2 L906.0,437.8 L907.0,438.4 L908.0,438.5 L909.0,438.1 L910.0,438.1 L911.0,438.3 L912.0,438.5 L913.0,438.0 L914.0,438.0 L915.0,438.0 L916.0,438.7 L917.0,438.1 L918.0,437.9 L919.0,438.0 L920.0,438.6 L921.0,438.1 L922.0,438.1 L923.0,438.4 L924.0,438.3 L925.0,438.5 L926.0,438.1 L927.0,438.3 L928.0,438.4 L929.0,438.5 L930.0,438.2 L931.0,438.4 L932.0,438.2 L933.0,438.6 L934.0,438.3 L935.0,438.1 L936.0,438.3 L937.0,438.7 L938.0,438.4 L939.0,438.4 L940.0,438.2 L941.0,438.6 L942.0,438.3 L943.0,438.2 L944.0,438.4 L945.0,438.9 L946.0,438.5 L947.0,438.4 L948.0,438.5 L949.0,438.7 L950.0,438.6 L951.0,438.6 L952.0,438.6 L953.0,438.5 L954.0,438.6 L955.0,438.6 L956.0,438.4 L957.0,438.9 L958.0,438.7 L959.0,438.8 L960.1,438.6 L961.1,438.8 L962.1,439.1 L963.1,438.6 L964.1,438.7 L965.1,438.9 L966.1,439.1 L967.1,439.1 L968.1,438.7 L969.1,438.8 L970.1,439.3 L971.1,439.2 L972.1,439.0 L973.1,438.8 L974.1,439.3 L975.1,439.1 L976.1,439.1 L977.1,439.0 L978.1,439.3 L979.1,439.6 L980.1,439.0 L981.1,439.2 L982.1,439.4 L983.1,439.5 L984.1,439.4 L985.1,439.1 L986.1,439.2 L987.1,439.7 L988.1,439.3 L989.1,439.3 L990.1,439.5 L991.1,439.9 L992.1,439.7 L993.1,439.7 L994.1,439.6 L995.1,439.9 L996.1,439.7 L997.1,439.8 L998.1,439.4 L999.1,439.9 L1000.1,439.9 L1001.1,439.6 L1002.1,439.6 L1003.1,439.9 L1004.1,440.3 L1005.1,440.1 L1006.1,439.7 L1007.1,439.9 L1008.1,440.2 L1009.1,440.2 L1010.1,439.8 L1011.1,439.9 L1012.1,440.5 L1013.1,440.4 L1014.1,440.3 L1015.1,440.0 L1016.1,440.5 L1017.1,440.3 L1018.1,440.2 L1019.1,440.4 L1020.1,440.3 L1021.1,440.4 L1022.1,440.5 L1023.1,440.2 L1024.1,440.5 L1025.1,441.0 L1026.1,440.8 L1027.1,440.2 L1028.1,440.8 L1029.1,441.1 L1030.1,440.9 L1031.1,440.6 L1032.1,440.5 L1033.1,441.1 L1034.1,441.1 L1035.1,440.9 L1036.1,440.6 L1037.1,441.0 L1038.1,441.1 L1039.1,440.7 L1040.1,440.7 L1041.1,441.3 L1042.1,441.0 L1043.1,440.9 L1044.1,441.1 L1045.1,441.3 L1046.1,441.6 L1047.1,440.9 L1048.1,441.0 L1049.1,441.1 L1050.1,441.7 L1051.1,441.4 L1052.1,441.0 L1053.1,441.4 L1054.1,441.6 L1055.1,441.6 L1056.1,441.4 L1057.1,441.4 L1058.1,441.9 L1059.1,441.7 L1060.1,441.5 L1061.1,441.6 L1062.1,441.6 L1063.1,441.6 L1064.1,441.5 L1065.1,441.4 L1066.1,442.0 L1067.1,441.8 L1068.1,441.5 L1069.1,441.5 L1070.1,441.9 L1071.0,442.0 L1071.7,441.7 L1072.2,441.7 L1072.6,442.1 L1073.1,442.4 L1073.6,442.1 L1073.8,441.4 L1074.6,441.1 L1075.1,440.7 L1075.5,440.1 L1075.6,439.4 L1075.7,438.4 L1076.3,437.4 L1076.9,436.2 L1077.5,434.7 L1078.6,433.2 L1080.1,432.9 L1081.5,432.7 L1082.7,432.0 L1084.2,431.7 L1085.7,432.0 L1087.0,433.1 L1088.3,433.5 L1089.3,434.2 L1090.2,434.7 L1090.7,435.7 L1091.5,436.0 L1092.5,436.1 L1093.1,436.8 L1093.9,437.1 L1094.6,437.3 L1095.3,437.4 L1096.1,437.5 L1096.8,437.8 L1097.7,437.9 L1098.6,438.2 L1099.6,438.4 L1100.6,438.6 L1101.7,439.2 L1102.9,439.6 L1103.9,440.3 L1104.6,441.2 L1105.5,441.8 L1106.3,442.3 L1107.3,442.6 L1108.0,443.4 L1108.5,444.4 L1109.5,444.9 L1110.5,445.2 L1111.2,446.1 L1111.6,447.2 L1112.4,447.8 L1113.5,448.2 L1114.1,449.0 L1114.4,450.1 L1115.2,450.7 L1115.9,451.3 L1116.8,451.9 L1117.3,452.8 L1118.0,453.5 L1118.7,454.3 L1119.3,455.0 L1119.8,455.9 L1120.5,456.6 L1121.3,457.1 L1121.9,458.0 L1122.5,458.7 L1122.7,459.8 L1123.5,460.4 L1124.2,461.1 L1124.9,461.8 L1125.3,462.7 L1125.9,463.5 L1126.8,464.1 L1127.4,465.0 L1127.8,465.9 L1128.5,466.7 L1129.2,467.4 L1130.0,468.1 L1130.3,469.1 L1130.9,470.0 L1131.5,470.8 L1132.4,471.4 L1132.9,472.2 L1133.5,473.1 L1134.3,473.7 L1134.9,474.5 L1135.3,475.5 L1135.8,476.3 L1136.6,477.0 L1137.3,477.7 L1137.9,478.5 L1138.4,479.5 L1139.3,480.0 L1139.9,480.8 L1140.6,481.6 L1141.0,482.5 L1141.7,483.2 L1142.6,483.7 L1143.3,484.4 L1143.9,485.3 L1144.5,486.3 L1145.6,486.9 L1146.2,487.8 L1146.8,488.7 L1147.2,489.7 L1148.1,490.3 L1148.8,491.1 L1149.3,491.9 L1149.8,492.9 L1150.7,493.5 L1151.4,494.2 L1151.7,495.3 L1152.4,496.1 L1152.9,496.9 L1153.8,497.5 L1154.3,498.4 L1154.6,499.4 L1155.5,500.0 L1156.1,500.8 L1156.7,501.6 L1157.1,502.6 L1158.0,503.2 L1158.5,504.1 L1159.3,504.7 L1159.4,505.9 L1160.2,506.5 L1160.9,507.2 L1161.6,507.9 L1162.0,508.9 L1162.6,509.7 L1163.4,510.4 L1163.9,511.2 L1164.3,512.1 L1164.5,513.2 L1165.4,513.7 L1166.0,514.5 L1166.7,515.2 L1166.8,516.4 L1167.6,516.9 L1168.2,517.7 L1168.9,518.5 L1169.1,519.5 L1169.9,520.2 L1170.7,520.8 L1171.0,521.7 L1171.2,522.7 L1171.7,523.6 L1172.6,524.1 L1173.1,525.0 L1173.7,525.7 L1174.0,526.7 L1174.8,527.3 L1175.4,528.1 L1175.9,528.9 L1176.1,529.9 L1176.7,530.6 L1177.4,531.3 L1177.8,532.2 L1178.2,533.1 L1179.0,533.8 L1179.3,534.7 L1179.8,535.6 L1180.1,536.6 L1181.0,537.3 L1181.4,538.3 L1182.3,539.0 L1182.4,540.1 L1182.9,541.1 L1183.8,541.7 L1184.4,542.6 L1184.8,543.6 L1185.2,544.6 L1185.9,545.3 L1186.3,546.3 L1186.9,547.2 L1187.2,548.2 L1188.0,548.9 L1188.5,549.8 L1188.9,550.8 L1189.2,551.8 L1190.1,552.5 L1190.7,553.3 L1190.9,554.3 L1191.1,555.4 L1192.1,556.0 L1192.4,557.0 L1193.2,557.8 L1193.3,558.9 L1193.7,559.8 L1194.5,560.5 L1195.0,561.4 L1195.5,562.3 L1195.7,563.3 L1196.6,564.0 L1196.8,565.1 L1197.4,565.9 L1197.4,567.0 L1198.4,567.6 L1198.8,568.6 L1199.1,569.6 L1199.3,570.6 L1200.2,571.2 L1200.7,572.1 L1201.1,573.0 L1201.5,574.0 L1202.0,574.8 L1202.5,575.7 L1203.0,576.6 L1203.0,577.7 L1203.6,578.5 L1204.2,579.3 L1204.5,580.3 L1205.0,581.1 L1205.2,582.1 L1205.9,582.9 L1206.4,583.8 L1206.6,584.8 L1206.9,585.7 L1207.5,586.5 L1208.1,587.3 L1208.6,588.2 L1208.7,589.2 L1209.5,590.0 L1209.7,591.0 L1210.2,591.8 L1210.4,592.8 L1211.0,593.6 L1211.6,594.4 L1211.7,595.4 L1212.1,596.3 L1212.3,597.3 L1213.1,598.0 L1213.6,598.9 L1213.6,600.0 L1213.8,600.9 L1214.6,601.6 L1214.8,602.6 L1215.3,603.5 L1215.3,604.5 L1216.3,605.1 L1216.4,606.1 L1216.6,607.1 L1217.1,608.0 L1217.5,608.8 L1218.1,609.6 L1218.5,610.5 L1218.5,611.6 L1219.2,612.3 L1219.6,613.2 L1220.0,614.1 L1219.8,615.2 L1220.6,615.9 L1221.0,616.8 L1221.5,617.6 L1221.5,618.7 L1222.0,619.5 L1222.3,620.4 L1222.8,621.2 L1222.8,622.3 L1223.4,623.1 L1224.0,623.9 L1224.2,624.8 L1224.4,625.8 L1224.6,626.7 L1225.1,627.6 L1225.5,628.4 L1225.8,629.3 L1225.8,630.3 L1226.3,631.2 L1227.1,631.9 L1227.2,632.9 L1227.2,633.9 L1227.9,634.7 L1228.4,635.5 L1228.6,636.4 L1228.6,637.4 L1228.9,638.3 L1229.5,639.2 L1229.9,640.1 L1230.0,641.2 L1230.1,642.3 L1230.8,643.2 L1231.4,644.1 L1231.7,645.1 L1231.7,646.3 L1232.4,647.1 L1232.9,648.1 L1233.0,649.2 L1233.2,650.2 L1233.5,651.3 L1234.3,652.1 L1234.2,653.3 L1234.4,654.3 L1234.9,655.2 L1235.6,656.1 L1235.8,657.2 L1235.9,658.3 L1236.2,659.3 L1237.0,660.1 L1237.1,661.2 L1237.3,662.2 L1237.4,663.3 L1238.1,664.2 L1238.6,665.2 L1238.7,666.2 L1238.7,667.3 L1239.3,668.3 L1239.9,669.1 L1240.1,670.2 L1240.0,671.4 L1240.5,672.3 L1241.0,673.2 L1241.4,674.2 L1241.3,675.3 L1241.8,676.3 L1242.4,677.2 L1242.5,678.3 L1242.8,679.3 L1243.2,680.2 L1243.4,681.3 L1243.8,682.3 L1244.0,683.3 L1244.1,684.3 L1244.7,685.3 L1244.9,686.3 L1245.2,687.3 L1245.3,688.3 L1245.7,689.3 L1246.1,690.3 L1246.3,691.3 L1246.4,692.4 L1247.0,693.3 L1247.3,694.3 L1247.7,695.3 L1247.4,696.4 L1248.3,697.3 L1248.8,698.2 L1248.7,699.3 L1248.8,700.4 L1249.1,701.4 L1249.6,702.3 L1250.1,703.3 L1250.1,704.3 L1250.3,705.4 L1251.1,706.2 L1251.0,707.4 L1251.2,708.4 L1251.3,709.4 L1252.1,710.3 L1252.3,711.3 L1252.5,712.3 L1252.5,713.4 L1253.0,714.3 L1253.6,715.3 L1253.5,716.4 L1253.5,717.5 L1254.1,718.4 L1254.4,719.4 L1254.8,720.3 L1254.9,721.4 L1255.4,722.3 L1255.8,723.3 L1256.2,724.3 L1256.1,725.3 L1256.5,726.3 L1257.0,727.3 L1251.9,728.7 L1251.8,727.7 L1251.6,726.6 L1251.2,725.7 L1250.8,724.7 L1250.7,723.6 L1250.7,722.6 L1249.8,721.7 L1249.8,720.7 L1249.7,719.6 L1249.6,718.6 L1248.8,717.7 L1248.7,716.7 L1248.2,715.7 L1248.4,714.6 L1248.0,713.6 L1247.3,712.7 L1246.9,711.8 L1247.2,710.6 L1246.7,709.7 L1246.5,708.7 L1246.0,707.7 L1245.9,706.7 L1245.8,705.6 L1245.1,704.7 L1244.8,703.7 L1244.8,702.6 L1244.7,701.6 L1244.0,700.7 L1243.4,699.8 L1243.4,698.7 L1243.5,697.6 L1242.8,696.7 L1242.3,695.8 L1242.2,694.7 L1242.2,693.6 L1241.8,692.7 L1241.2,691.8 L1241.1,690.7 L1240.9,689.7 L1240.4,688.7 L1240.1,687.8 L1239.9,686.7 L1239.6,685.7 L1239.5,684.6 L1238.8,683.8 L1238.5,682.8 L1238.2,681.8 L1238.2,680.7 L1237.9,679.7 L1237.4,678.8 L1237.3,677.7 L1236.9,676.7 L1236.6,675.7 L1235.9,674.8 L1235.8,673.8 L1235.6,672.7 L1235.4,671.7 L1235.0,670.7 L1234.5,669.8 L1234.4,668.7 L1234.2,667.7 L1233.4,666.8 L1233.1,665.8 L1233.2,664.7 L1233.0,663.7 L1232.3,662.8 L1232.1,661.8 L1231.6,660.8 L1231.5,659.7 L1230.7,658.9 L1230.7,657.8 L1230.3,656.8 L1230.1,655.8 L1229.7,654.8 L1229.3,653.8 L1229.1,652.8 L1228.8,651.7 L1228.3,650.8 L1227.8,649.9 L1227.6,648.8 L1227.4,647.8 L1227.1,646.8 L1226.5,645.8 L1225.9,644.9 L1226.1,643.7 L1225.6,642.8 L1225.2,641.8 L1224.7,640.9 L1224.4,640.0 L1224.1,639.1 L1223.8,638.2 L1223.1,637.4 L1223.1,636.4 L1222.8,635.5 L1222.5,634.6 L1221.9,633.8 L1221.8,632.9 L1221.6,632.0 L1221.1,631.1 L1220.7,630.2 L1220.4,629.4 L1220.2,628.4 L1219.8,627.5 L1219.3,626.7 L1219.0,625.8 L1218.8,624.9 L1218.6,624.0 L1218.1,623.1 L1217.7,622.3 L1217.5,621.3 L1217.3,620.3 L1216.4,619.7 L1216.2,618.7 L1216.0,617.8 L1215.7,616.9 L1215.2,616.0 L1214.6,615.3 L1214.4,614.3 L1214.3,613.3 L1213.7,612.5 L1213.1,611.7 L1212.8,610.8 L1212.8,609.8 L1212.3,608.9 L1211.6,608.2 L1211.4,607.3 L1211.5,606.2 L1210.8,605.4 L1210.3,604.6 L1209.9,603.7 L1209.8,602.6 L1209.2,601.9 L1208.8,601.0 L1208.2,600.2 L1208.2,599.1 L1207.8,598.3 L1207.1,597.5 L1206.6,596.7 L1206.5,595.7 L1206.1,594.7 L1205.3,594.0 L1205.0,593.1 L1204.6,592.2 L1204.4,591.2 L1203.7,590.5 L1203.2,589.7 L1202.8,588.7 L1202.9,587.6 L1202.1,586.9 L1201.7,586.0 L1201.2,585.2 L1201.2,584.1 L1200.7,583.2 L1199.9,582.6 L1199.5,581.6 L1199.5,580.5 L1199.0,579.7 L1198.4,578.9 L1197.6,578.1 L1197.4,577.1 L1197.1,576.2 L1196.5,575.4 L1196.1,574.5 L1195.5,573.7 L1195.5,572.5 L1194.7,571.8 L1194.2,571.0 L1193.6,570.1 L1193.4,569.1 L1193.0,568.2 L1192.3,567.4 L1192.0,566.5 L1191.8,565.5 L1191.3,564.6 L1190.3,564.0 L1190.1,563.0 L1189.6,562.0 L1189.0,561.2 L1188.5,560.4 L1188.1,559.4 L1187.5,558.6 L1187.1,557.7 L1186.3,556.9 L1185.9,556.0 L1185.5,555.1 L1185.3,554.0 L1184.4,553.4 L1184.0,552.4 L1183.7,551.4 L1183.2,550.5 L1182.6,549.7 L1181.7,549.0 L1181.5,547.9 L1180.9,547.1 L1180.5,546.1 L1179.6,545.5 L1179.2,544.5 L1179.1,543.4 L1178.5,542.5 L1177.8,541.7 L1177.2,540.9 L1176.5,540.1 L1176.3,539.0 L1175.5,538.3 L1174.8,537.5 L1174.7,536.4 L1174.3,535.5 L1173.3,535.1 L1172.7,534.4 L1172.5,533.4 L1172.0,532.5 L1171.6,531.7 L1170.6,531.2 L1170.4,530.2 L1170.2,529.2 L1169.4,528.6 L1168.8,527.8 L1168.2,527.1 L1167.9,526.1 L1167.2,525.4 L1166.5,524.8 L1166.0,523.9 L1165.6,523.1 L1165.4,522.0 L1164.3,521.6 L1164.0,520.6 L1163.6,519.8 L1163.1,518.9 L1162.4,518.3 L1161.6,517.6 L1161.1,516.8 L1160.8,515.8 L1160.2,515.0 L1159.5,514.3 L1158.8,513.6 L1158.6,512.6 L1158.0,511.8 L1157.2,511.1 L1156.5,510.5 L1156.3,509.4 L1155.4,508.8 L1154.7,508.1 L1154.0,507.3 L1153.9,506.2 L1153.2,505.5 L1152.4,504.8 L1151.8,504.1 L1151.3,503.2 L1150.8,502.3 L1150.0,501.7 L1149.4,500.8 L1148.8,500.1 L1148.6,499.0 L1147.8,498.3 L1146.9,497.7 L1146.4,496.8 L1145.8,496.0 L1145.4,495.1 L1144.5,494.5 L1143.8,493.8 L1143.6,492.6 L1142.7,492.0 L1142.0,491.3 L1141.2,490.8 L1140.9,489.7 L1140.0,489.1 L1139.0,488.5 L1138.2,487.7 L1137.7,486.7 L1137.2,485.7 L1136.3,485.1 L1135.5,484.4 L1135.0,483.5 L1134.6,482.6 L1133.7,482.0 L1133.1,481.2 L1132.7,480.2 L1132.1,479.4 L1131.4,478.6 L1130.3,478.2 L1129.9,477.1 L1129.5,476.2 L1128.7,475.4 L1127.8,474.9 L1127.5,473.9 L1127.1,472.9 L1126.3,472.2 L1125.5,471.5 L1124.9,470.7 L1124.5,469.8 L1124.1,468.8 L1123.1,468.2 L1122.5,467.5 L1122.0,466.6 L1121.4,465.9 L1120.5,465.3 L1119.9,464.6 L1119.4,463.8 L1119.2,462.7 L1118.2,462.2 L1117.4,461.6 L1117.0,460.7 L1116.5,459.9 L1115.8,459.2 L1115.1,458.5 L1114.5,457.8 L1114.2,456.8 L1113.4,456.3 L1112.8,455.6 L1112.1,455.0 L1111.4,454.4 L1110.9,453.5 L1110.0,453.0 L1109.4,452.3 L1108.6,451.8 L1108.3,450.9 L1107.3,450.6 L1106.5,450.0 L1105.7,449.5 L1105.2,448.6 L1104.2,448.3 L1103.5,447.6 L1102.6,447.2 L1102.2,446.4 L1101.3,446.3 L1100.6,446.1 L1100.1,445.8 L1099.5,445.5 L1098.8,445.2 L1097.9,445.5 L1097.0,445.1 L1096.1,444.8 L1095.0,444.7 L1093.9,444.4 L1092.8,444.1 L1091.8,443.4 L1091.0,442.4 L1089.9,442.3 L1089.0,441.9 L1088.5,440.9 L1087.7,440.4 L1086.6,440.2 L1085.9,439.7 L1085.3,439.1 L1084.9,438.9 L1084.4,439.3 L1084.1,439.4 L1083.6,439.4 L1082.7,439.0 L1082.1,439.4 L1081.6,439.4 L1081.2,439.0 L1080.7,438.8 L1080.5,439.2 L1080.7,440.0 L1080.2,440.9 L1079.8,442.0 L1079.3,443.1 L1078.9,444.3 L1078.3,445.5 L1077.1,446.1 L1076.2,447.2 L1075.1,448.3 L1073.7,449.0 L1072.2,449.4 L1071.0,449.1 L1069.9,449.4 L1068.9,449.1 L1067.9,449.1 L1066.9,448.8 L1065.9,449.1 L1064.9,449.1 L1063.9,449.4 L1062.9,448.7 L1061.9,448.7 L1060.9,449.1 L1059.9,449.3 L1058.9,449.0 L1057.9,448.8 L1056.9,448.8 L1055.9,448.9 L1054.9,448.6 L1053.9,448.7 L1052.9,448.9 L1051.9,448.9 L1050.9,449.0 L1049.9,448.4 L1048.9,448.8 L1047.9,449.0 L1046.9,448.8 L1045.9,448.4 L1044.9,448.6 L1043.9,448.9 L1042.9,448.9 L1041.9,448.5 L1040.9,448.6 L1039.9,448.6 L1038.9,449.0 L1037.9,448.3 L1036.9,448.4 L1035.9,448.6 L1034.9,448.5 L1033.9,448.6 L1032.9,448.3 L1031.9,448.5 L1030.9,448.9 L1029.9,448.7 L1028.9,448.3 L1027.9,448.3 L1026.9,448.6 L1025.9,448.4 L1024.9,448.3 L1023.9,448.2 L1022.9,448.3 L1021.9,448.6 L1020.9,448.1 L1019.9,448.3 L1018.9,448.3 L1017.9,448.3 L1016.9,448.1 L1015.9,448.2 L1014.9,448.5 L1013.9,448.5 L1012.9,447.9 L1011.9,448.0 L1010.9,448.4 L1009.9,448.4 L1008.9,448.0 L1007.9,447.8 L1006.9,448.2 L1005.9,448.1 L1004.9,448.0 L1003.9,447.9 L1002.9,448.3 L1001.9,448.3 L1000.9,448.0 L999.9,448.0 L998.9,447.8 L997.9,448.2 L996.9,448.0 L995.9,447.6 L994.9,448.0 L993.9,448.0 L992.9,448.1 L991.9,447.7 L990.9,447.8 L989.9,447.9 L988.9,448.0 L987.9,448.0 L986.9,447.4 L985.9,448.0 L984.9,447.7 L983.9,447.5 L982.9,447.4 L981.9,447.9 L980.9,448.0 L979.9,447.9 L978.9,447.4 L977.9,447.7 L976.9,447.8 L975.9,447.8 L974.9,447.5 L973.9,447.7 L972.9,447.7 L971.9,447.8 L970.9,447.5 L969.9,447.1 L968.9,447.7 L967.9,447.5 L966.9,447.6 L965.9,447.1 L964.9,447.4 L963.9,447.6 L962.9,447.4 L961.9,447.0 L960.9,447.4 L959.9,447.3 L959.0,447.5 L958.0,447.0 L957.0,447.1 L956.0,447.3 L955.0,447.6 L954.0,447.3 L953.0,447.4 L952.0,447.6 L951.0,447.4 L950.0,447.3 L949.0,447.3 L948.0,447.4 L947.0,447.5 L946.0,447.2 L945.0,447.4 L944.0,447.5 L943.0,447.6 L942.0,447.5 L941.0,447.3 L940.0,447.2 L939.0,447.6 L938.0,447.5 L937.0,447.4 L936.0,447.3 L935.0,447.6 L934.0,447.7 L933.0,447.1 L932.0,447.4 L931.0,447.7 L930.0,447.4 L929.0,447.3 L928.0,447.5 L927.0,447.6 L926.0,447.7 L925.0,447.4 L924.0,447.3 L923.0,447.5 L922.0,447.7 L921.0,447.6 L920.0,447.3 L919.0,447.6 L918.0,447.6 L917.0,447.6 L916.0,447.2 L915.0,447.7 L914.0,447.5 L913.0,447.6 L912.0,447.1 L911.0,447.5 L910.0,447.6 L909.0,447.6 L908.0,447.3 L907.0,447.4 L906.0,447.6 L905.0,447.7 L904.0,447.3 L903.0,447.6 L902.0,447.8 L901.0,447.5 L900.0,447.5 L899.0,447.1 L898.0,447.8 L897.0,447.7 L896.0,447.5 L895.0,447.5Z" fill="#818181" stroke="#818181" stroke-width="0.6"/>
<path d="M895.1,457.9 L896.1,458.0 L897.1,457.6 L898.1,457.8 L899.1,458.1 L900.1,458.0 L901.1,457.9 L902.1,457.8 L903.1,458.0 L904.1,458.2 L905.1,458.2 L906.1,458.0 L907.1,458.3 L908.1,458.3 L909.1,458.2 L910.1,458.2 L911.1,458.3 L912.1,458.4 L913.1,458.1 L914.1,458.1 L915.1,458.3 L916.1,458.7 L917.1,458.2 L918.1,458.2 L919.1,458.5 L920.1,458.8 L921.1,458.6 L922.1,458.5 L923.1,458.3 L924.1,458.8 L925.1,458.6 L926.1,458.7 L927.1,458.5 L928.1,458.7 L929.1,458.7 L930.1,458.5 L931.1,458.7 L932.1,458.9 L933.1,459.2 L934.1,458.8 L935.1,458.7 L936.1,458.8 L937.1,459.1 L938.1,458.9 L939.1,458.8 L940.1,459.2 L941.1,459.6 L942.1,459.0 L943.1,459.1 L944.1,459.2 L945.1,459.6 L946.1,459.5 L947.1,459.3 L948.1,459.4 L949.1,459.7 L950.1,459.3 L951.1,459.4 L952.1,459.3 L953.1,459.3 L954.1,459.9 L955.1,459.4 L956.1,459.6 L957.1,459.8 L958.1,459.7 L959.1,459.4 L960.1,459.3 L961.1,459.7 L962.1,459.9 L963.1,459.9 L964.1,459.5 L965.1,459.7 L966.1,460.1 L967.1,459.7 L968.1,459.7 L969.1,460.1 L970.1,460.3 L971.1,460.3 L972.1,460.1 L973.1,460.0 L974.1,460.0 L975.1,460.4 L976.1,460.2 L977.1,460.0 L978.1,460.2 L979.1,460.6 L980.1,460.5 L981.1,460.3 L982.1,460.3 L983.1,460.9 L984.1,460.6 L985.1,460.4 L986.1,460.6 L987.1,461.0 L988.1,460.4 L989.1,460.5 L990.1,460.6 L991.1,461.0 L992.1,461.0 L993.1,460.5 L994.1,460.7 L995.1,460.9 L996.1,460.8 L997.1,461.1 L998.1,461.0 L999.1,460.9 L1000.1,461.5 L1001.1,461.1 L1002.1,461.1 L1003.1,461.4 L1004.1,461.5 L1005.1,461.4 L1006.1,461.2 L1007.1,461.3 L1008.1,461.5 L1009.1,461.6 L1010.1,461.4 L1011.1,461.3 L1012.1,461.6 L1013.1,461.5 L1014.1,461.3 L1015.1,461.5 L1016.1,461.6 L1017.1,461.8 L1018.1,461.4 L1019.1,461.4 L1020.1,461.9 L1021.1,462.0 L1022.1,461.8 L1023.1,461.5 L1024.1,461.8 L1025.1,462.2 L1026.1,462.1 L1027.1,462.0 L1028.1,461.8 L1029.1,462.3 L1030.1,462.2 L1031.1,461.9 L1032.1,462.2 L1033.1,462.6 L1034.2,462.1 L1035.1,462.4 L1036.2,462.2 L1037.1,462.4 L1038.1,462.5 L1039.2,462.2 L1040.1,462.4 L1041.1,462.7 L1042.1,462.8 L1043.1,462.7 L1044.1,462.6 L1045.1,462.7 L1046.1,463.0 L1047.2,462.6 L1048.2,462.6 L1049.1,462.8 L1050.1,463.4 L1051.1,463.1 L1052.2,462.7 L1053.1,463.3 L1054.1,463.3 L1055.1,463.2 L1056.1,463.3 L1057.1,463.1 L1058.1,463.3 L1059.1,463.7 L1060.1,463.2 L1061.1,463.2 L1062.1,463.8 L1063.1,463.9 L1064.1,463.5 L1065.1,463.5 L1066.1,463.9 L1067.1,464.1 L1068.2,463.7 L1069.2,463.6 L1070.2,463.8 L1071.2,464.2 L1072.3,463.9 L1073.3,464.1 L1074.3,464.2 L1075.3,464.3 L1076.3,464.2 L1077.3,464.0 L1078.3,464.5 L1079.3,464.7 L1080.3,464.9 L1081.3,464.3 L1082.3,464.6 L1083.3,465.0 L1084.3,465.1 L1085.3,464.9 L1086.3,464.7 L1087.3,465.0 L1088.4,465.3 L1089.5,465.2 L1090.7,465.2 L1091.8,465.8 L1092.8,466.4 L1093.9,466.3 L1094.9,466.7 L1095.9,467.1 L1096.8,467.8 L1097.9,468.0 L1099.1,468.3 L1100.1,469.0 L1101.0,469.8 L1102.0,470.2 L1103.1,470.4 L1103.9,471.2 L1104.8,471.7 L1105.6,472.6 L1106.6,473.0 L1107.6,473.6 L1108.4,474.3 L1109.1,475.0 L1110.0,475.6 L1110.8,476.2 L1111.6,476.7 L1112.2,477.6 L1113.2,477.9 L1114.1,478.4 L1114.8,479.1 L1115.2,480.1 L1116.3,480.3 L1117.1,480.9 L1118.0,481.3 L1118.5,482.3 L1119.3,482.8 L1120.2,483.3 L1121.0,483.9 L1121.8,484.5 L1122.6,485.1 L1123.5,485.7 L1124.3,486.3 L1124.7,487.4 L1125.4,488.2 L1126.5,488.4 L1127.0,489.3 L1127.7,490.1 L1128.3,490.9 L1129.2,491.3 L1130.1,491.8 L1130.6,492.7 L1131.0,493.7 L1132.2,493.9 L1133.0,494.6 L1133.6,495.4 L1134.1,496.4 L1135.0,496.9 L1136.0,497.4 L1136.5,498.4 L1137.0,499.3 L1137.9,499.9 L1138.8,500.5 L1139.7,501.1 L1140.0,502.2 L1140.8,502.9 L1141.5,503.6 L1142.2,504.3 L1142.9,505.0 L1143.3,506.0 L1144.5,506.4 L1145.0,507.2 L1145.6,508.1 L1146.2,508.8 L1147.2,509.3 L1147.7,510.2 L1148.3,511.0 L1148.9,511.8 L1149.7,512.4 L1150.3,513.1 L1151.1,513.7 L1151.5,514.7 L1152.1,515.5 L1152.9,516.1 L1153.5,516.8 L1153.9,517.8 L1154.7,518.4 L1155.7,518.9 L1156.4,519.8 L1156.9,520.6 L1157.2,521.7 L1158.3,522.2 L1158.9,523.1 L1159.5,524.0 L1159.9,524.9 L1161.0,525.4 L1161.6,526.3 L1162.2,527.1 L1162.4,528.2 L1163.4,528.7 L1163.9,529.6 L1164.6,530.4 L1165.1,531.3 L1165.9,532.0 L1166.7,532.7 L1167.0,533.7 L1167.7,534.4 L1168.3,535.3 L1168.9,536.1 L1169.6,536.8 L1169.9,537.8 L1170.7,538.4 L1171.3,539.2 L1171.8,540.1 L1172.4,540.9 L1172.9,541.7 L1173.5,542.5 L1174.3,543.2 L1174.7,544.1 L1175.0,545.1 L1175.9,545.6 L1176.3,546.5 L1176.8,547.4 L1177.3,548.2 L1178.0,548.9 L1178.7,549.6 L1179.1,550.6 L1179.4,551.6 L1179.9,552.5 L1180.7,553.3 L1181.4,554.1 L1181.6,555.2 L1182.4,556.0 L1183.1,556.8 L1183.8,557.6 L1183.9,558.7 L1184.6,559.6 L1185.0,560.6 L1185.7,561.4 L1186.1,562.3 L1186.6,563.2 L1187.3,564.0 L1188.1,564.8 L1188.4,565.8 L1188.5,566.9 L1189.3,567.7 L1190.0,568.5 L1190.5,569.4 L1190.8,570.4 L1191.2,571.3 L1192.1,571.9 L1192.3,573.0 L1192.9,573.9 L1193.3,574.8 L1193.8,575.7 L1194.2,576.6 L1194.5,577.6 L1195.0,578.5 L1195.9,579.1 L1196.3,580.1 L1196.5,581.1 L1196.9,582.1 L1197.4,582.9 L1198.2,583.7 L1198.5,584.6 L1198.6,585.7 L1199.3,586.4 L1200.0,587.2 L1200.3,588.2 L1200.3,589.3 L1201.0,590.0 L1201.5,590.9 L1202.0,591.8 L1202.3,592.8 L1202.5,593.7 L1203.1,594.5 L1203.7,595.4 L1203.8,596.4 L1204.3,597.3 L1204.9,598.1 L1205.6,598.8 L1205.5,600.0 L1205.8,600.9 L1206.6,601.6 L1207.2,602.4 L1207.4,603.4 L1207.3,604.5 L1207.8,605.3 L1208.8,606.0 L1209.0,606.9 L1209.0,608.0 L1209.5,608.8 L1210.2,609.6 L1210.2,610.6 L1210.7,611.5 L1211.1,612.4 L1211.7,613.1 L1211.8,614.2 L1212.3,615.0 L1212.6,615.9 L1213.1,616.8 L1213.3,617.7 L1213.4,618.7 L1213.8,619.6 L1214.5,620.4 L1214.9,621.2 L1215.1,622.2 L1215.1,623.2 L1215.8,624.0 L1216.5,624.7 L1216.6,625.7 L1216.6,626.8 L1217.3,627.5 L1217.6,628.4 L1217.8,629.4 L1217.9,630.4 L1218.7,631.1 L1219.1,631.9 L1219.4,632.9 L1219.5,633.8 L1219.7,634.8 L1220.6,635.5 L1220.8,636.4 L1220.8,637.4 L1221.4,638.2 L1221.8,639.1 L1222.0,640.0 L1222.3,640.9 L1222.4,641.9 L1223.1,642.7 L1223.5,643.5 L1223.8,644.4 L1223.8,645.5 L1224.4,646.2 L1225.0,647.0 L1225.1,648.0 L1225.1,649.0 L1225.8,649.8 L1226.2,650.6 L1226.5,651.5 L1226.6,652.5 L1226.7,653.5 L1227.5,654.2 L1227.8,655.1 L1228.0,656.0 L1228.3,656.9 L1228.7,657.8 L1229.2,658.6 L1229.3,659.6 L1229.3,660.6 L1230.0,661.4 L1230.6,662.1 L1230.7,663.1 L1230.5,664.2 L1231.2,664.9 L1231.8,665.7 L1232.2,666.6 L1231.9,667.7 L1232.3,668.6 L1233.1,669.3 L1233.3,670.2 L1233.6,671.1 L1234.0,672.0 L1234.4,672.8 L1234.7,673.7 L1234.7,674.8 L1235.1,675.6 L1235.7,676.4 L1236.1,677.3 L1236.1,678.3 L1236.6,679.1 L1236.9,680.0 L1237.5,680.8 L1237.7,681.8 L1237.9,682.7 L1238.3,683.5 L1238.8,684.4 L1239.0,685.3 L1239.0,686.4 L1239.9,687.0 L1240.2,687.9 L1240.3,688.9 L1240.7,689.8 L1240.9,690.7 L1241.5,691.5 L1241.9,692.4 L1241.9,693.4 L1242.3,694.3 L1243.0,695.0 L1243.6,695.8 L1243.7,696.8 L1243.8,697.8 L1244.3,698.7 L1244.9,699.4 L1245.2,700.3 L1245.4,701.3 L1245.7,702.2 L1246.2,703.0 L1246.5,704.0 L1246.7,704.9 L1247.2,705.8 L1248.0,706.5 L1248.1,707.5 L1248.4,708.4 L1248.9,709.2 L1249.3,710.1 L1249.6,711.0 L1249.8,712.0 L1250.4,712.8 L1251.2,713.5 L1251.5,714.4 L1251.8,715.4 L1251.8,716.4 L1252.4,717.2 L1253.1,718.0 L1253.5,718.9 L1253.4,720.0 L1254.4,720.6 L1254.8,721.5 L1254.9,722.5 L1255.4,723.4 L1256.0,724.2 L1256.4,725.1 L1256.7,726.1 L1257.0,727.0 L1252.8,729.1 L1252.3,728.2 L1251.6,727.4 L1251.3,726.5 L1251.4,725.3 L1250.5,724.7 L1250.1,723.8 L1249.6,722.9 L1249.4,721.9 L1248.8,721.1 L1248.2,720.3 L1248.1,719.2 L1247.8,718.3 L1247.2,717.5 L1246.7,716.6 L1246.1,715.8 L1245.9,714.8 L1245.6,713.9 L1245.2,713.0 L1244.5,712.2 L1244.3,711.3 L1244.1,710.3 L1243.5,709.5 L1243.2,708.5 L1242.9,707.6 L1242.8,706.6 L1242.0,705.9 L1241.6,705.0 L1241.1,704.2 L1241.2,703.0 L1240.5,702.3 L1240.2,701.4 L1239.9,700.5 L1239.4,699.6 L1239.0,698.8 L1238.7,697.8 L1238.4,696.9 L1238.1,696.0 L1237.6,695.2 L1237.0,694.4 L1236.9,693.4 L1236.5,692.5 L1236.6,691.4 L1235.9,690.7 L1235.2,689.9 L1235.0,689.0 L1234.9,688.0 L1234.5,687.1 L1233.9,686.3 L1233.8,685.3 L1233.6,684.4 L1233.1,683.5 L1232.7,682.7 L1232.2,681.8 L1232.3,680.8 L1231.6,680.0 L1231.2,679.2 L1231.0,678.2 L1230.7,677.3 L1230.3,676.4 L1230.0,675.5 L1229.6,674.6 L1229.3,673.7 L1228.9,672.9 L1228.6,672.0 L1228.4,671.1 L1228.0,670.2 L1228.1,669.1 L1227.3,668.4 L1226.9,667.6 L1226.8,666.6 L1226.4,665.7 L1225.9,664.9 L1225.6,664.0 L1225.4,663.0 L1225.4,662.0 L1224.6,661.3 L1224.0,660.5 L1223.9,659.6 L1223.8,658.6 L1223.5,657.7 L1222.7,657.0 L1222.6,656.0 L1222.4,655.1 L1222.2,654.1 L1221.7,653.3 L1221.1,652.5 L1221.1,651.5 L1220.7,650.6 L1220.3,649.8 L1220.1,648.9 L1219.7,648.0 L1219.5,647.1 L1219.1,646.2 L1218.4,645.4 L1218.3,644.4 L1218.2,643.5 L1217.6,642.7 L1217.2,641.8 L1216.9,640.9 L1216.9,639.9 L1216.3,639.1 L1216.1,638.2 L1215.5,637.4 L1215.4,636.4 L1215.2,635.5 L1214.6,634.7 L1214.3,633.8 L1214.0,632.9 L1213.8,632.0 L1213.3,631.1 L1212.8,630.3 L1212.6,629.4 L1212.3,628.4 L1211.9,627.6 L1211.4,626.8 L1211.3,625.8 L1211.2,624.8 L1210.4,624.1 L1210.0,623.2 L1209.9,622.2 L1209.7,621.3 L1209.2,620.4 L1208.7,619.6 L1208.5,618.7 L1208.3,617.7 L1207.8,616.9 L1207.0,616.2 L1207.0,615.2 L1206.7,614.2 L1206.2,613.4 L1205.7,612.6 L1205.4,611.6 L1205.1,610.7 L1204.8,609.8 L1204.4,608.9 L1203.7,608.2 L1203.4,607.3 L1203.2,606.3 L1202.9,605.4 L1202.2,604.6 L1201.7,603.8 L1201.6,602.8 L1201.1,601.9 L1200.6,601.1 L1200.3,600.2 L1199.9,599.3 L1199.5,598.4 L1199.1,597.5 L1198.5,596.7 L1198.3,595.7 L1197.8,594.9 L1197.3,594.0 L1197.0,593.1 L1196.8,592.1 L1196.5,591.1 L1195.6,590.5 L1195.1,589.6 L1194.8,588.7 L1194.8,587.6 L1194.0,586.9 L1193.6,586.0 L1192.9,585.2 L1192.7,584.2 L1192.3,583.3 L1191.6,582.5 L1191.2,581.6 L1191.0,580.6 L1190.3,579.8 L1189.7,579.0 L1189.4,578.1 L1189.0,577.1 L1188.5,576.3 L1187.8,575.5 L1187.2,574.7 L1187.1,573.6 L1186.5,572.8 L1185.9,571.9 L1185.2,571.2 L1185.2,570.0 L1184.7,569.2 L1184.1,568.3 L1183.5,567.5 L1182.9,566.6 L1182.7,565.6 L1182.0,564.8 L1181.3,564.0 L1180.6,563.2 L1180.5,562.0 L1179.9,561.2 L1179.0,560.6 L1178.5,559.7 L1178.3,558.6 L1177.6,557.8 L1176.9,556.9 L1176.3,556.1 L1175.9,555.1 L1175.5,554.1 L1174.7,553.5 L1174.1,552.7 L1173.6,551.9 L1173.4,550.8 L1172.5,550.3 L1171.9,549.5 L1171.6,548.6 L1171.2,547.6 L1170.5,547.0 L1169.7,546.3 L1169.3,545.5 L1168.9,544.6 L1168.3,543.8 L1167.4,543.3 L1167.0,542.3 L1166.4,541.5 L1165.8,540.8 L1165.2,540.0 L1164.7,539.1 L1164.4,538.2 L1163.5,537.6 L1162.8,536.9 L1162.2,536.1 L1161.7,535.2 L1161.2,534.3 L1160.5,533.6 L1159.7,532.9 L1159.2,532.1 L1158.8,531.1 L1157.8,530.6 L1157.3,529.7 L1156.7,528.9 L1156.2,528.0 L1155.5,527.2 L1154.7,526.5 L1154.1,525.7 L1153.5,524.9 L1152.9,523.9 L1152.0,523.4 L1151.2,522.7 L1150.9,521.7 L1150.4,520.9 L1149.5,520.3 L1148.9,519.6 L1148.3,518.8 L1147.6,518.1 L1146.9,517.5 L1146.1,516.9 L1145.8,515.8 L1145.3,515.0 L1144.4,514.5 L1143.5,514.0 L1143.0,513.2 L1142.7,512.1 L1141.8,511.6 L1141.0,511.0 L1140.4,510.1 L1139.9,509.3 L1138.9,508.9 L1138.0,508.3 L1137.4,507.6 L1137.2,506.4 L1136.3,505.8 L1135.3,505.4 L1134.5,504.7 L1134.1,503.7 L1133.4,503.0 L1132.5,502.4 L1131.8,501.7 L1131.2,500.8 L1130.5,500.1 L1129.5,499.6 L1129.0,498.7 L1128.2,498.0 L1127.8,497.0 L1126.7,496.8 L1126.0,496.1 L1125.4,495.3 L1124.9,494.5 L1124.0,494.0 L1123.2,493.4 L1122.6,492.7 L1122.0,491.9 L1121.1,491.4 L1120.3,490.9 L1119.7,490.3 L1119.0,489.6 L1118.2,489.2 L1117.4,488.7 L1116.7,488.0 L1115.8,487.6 L1115.1,486.9 L1114.3,486.3 L1113.5,485.7 L1112.7,485.1 L1112.1,484.4 L1111.0,484.1 L1110.1,483.6 L1109.4,482.8 L1108.8,482.1 L1108.0,481.5 L1107.0,481.1 L1106.2,480.5 L1105.6,479.6 L1104.9,478.9 L1104.0,478.6 L1103.1,478.2 L1102.6,477.4 L1101.7,476.9 L1100.6,476.8 L1099.7,476.4 L1099.0,475.5 L1098.2,474.8 L1097.3,474.7 L1096.4,474.6 L1095.6,474.4 L1094.8,474.0 L1093.9,473.7 L1092.9,473.5 L1091.9,473.3 L1091.1,472.9 L1090.2,472.7 L1089.3,472.6 L1088.5,472.6 L1087.6,472.4 L1086.7,472.3 L1085.7,472.3 L1084.7,472.4 L1083.7,472.2 L1082.7,472.2 L1081.7,472.1 L1080.7,472.1 L1079.7,471.9 L1078.7,471.6 L1077.7,471.8 L1076.7,471.7 L1075.7,471.7 L1074.7,471.2 L1073.7,471.6 L1072.7,471.7 L1071.8,471.1 L1070.8,470.9 L1069.8,471.3 L1068.8,471.4 L1067.8,471.3 L1066.9,470.6 L1065.9,471.2 L1064.9,471.1 L1063.9,471.0 L1062.9,470.8 L1061.9,470.9 L1060.9,471.0 L1059.9,470.8 L1058.9,470.8 L1057.9,470.8 L1056.9,470.9 L1055.8,471.0 L1054.9,470.8 L1053.9,470.6 L1052.9,470.6 L1051.9,470.8 L1050.9,470.6 L1049.9,470.3 L1048.9,470.6 L1047.9,470.7 L1046.9,470.4 L1045.9,470.1 L1044.9,470.5 L1043.9,470.4 L1042.9,470.4 L1041.9,470.3 L1040.9,469.9 L1039.9,470.2 L1038.8,470.4 L1037.9,470.0 L1036.9,469.9 L1035.9,470.1 L1034.8,470.2 L1033.9,470.1 L1032.9,469.8 L1031.9,470.0 L1030.9,470.2 L1029.9,469.8 L1028.9,469.4 L1027.9,470.1 L1026.9,469.8 L1025.9,469.8 L1024.9,469.8 L1023.9,469.6 L1022.9,469.9 L1021.9,469.9 L1020.9,469.4 L1019.9,469.5 L1018.9,469.9 L1017.9,469.9 L1016.9,469.5 L1015.9,469.3 L1014.9,469.7 L1013.9,469.7 L1012.9,469.6 L1011.9,469.1 L1010.9,469.8 L1009.9,469.8 L1008.9,469.2 L1007.9,469.1 L1006.9,469.4 L1005.9,469.6 L1004.9,469.5 L1003.9,469.3 L1002.9,469.2 L1001.9,469.5 L1000.9,469.3 L999.9,469.0 L998.9,469.2 L997.9,469.2 L996.9,469.4 L995.9,468.9 L994.9,468.9 L993.9,469.4 L992.9,469.2 L991.9,468.8 L990.9,468.9 L989.9,468.9 L988.9,469.1 L987.9,469.0 L986.9,468.9 L985.9,469.0 L984.9,469.0 L983.9,468.8 L982.9,468.4 L981.9,468.7 L980.9,468.8 L979.9,468.6 L978.9,468.6 L977.9,468.6 L976.9,469.0 L975.9,468.8 L974.9,468.5 L973.9,468.8 L972.9,469.0 L971.9,468.8 L970.9,468.3 L969.9,468.2 L968.9,468.7 L967.9,468.6 L966.9,468.4 L965.9,468.1 L964.9,468.5 L963.9,468.4 L962.9,468.4 L961.9,468.0 L960.9,468.3 L959.9,468.6 L958.9,468.5 L957.9,468.2 L956.9,468.3 L955.9,468.4 L954.9,468.5 L953.9,468.0 L952.9,468.0 L951.9,468.2 L950.9,468.4 L949.9,467.9 L948.9,467.9 L947.9,468.4 L946.9,468.5 L945.9,468.2 L944.9,467.9 L943.9,468.3 L942.9,468.4 L941.9,468.0 L940.9,467.8 L939.9,468.3 L938.9,468.1 L937.9,467.9 L936.9,467.6 L935.9,468.1 L934.9,467.9 L933.9,468.2 L932.9,467.6 L931.9,467.9 L930.9,468.1 L929.9,468.1 L928.9,467.7 L927.9,467.7 L926.9,467.8 L925.9,467.9 L924.9,467.8 L923.9,467.8 L922.9,467.9 L921.9,468.1 L920.9,467.9 L919.9,467.7 L918.9,467.8 L917.9,468.0 L916.9,467.6 L915.9,467.6 L914.9,467.8 L913.9,468.0 L912.9,467.9 L911.9,467.3 L910.9,467.8 L909.9,467.6 L908.9,467.5 L907.9,467.5 L906.9,467.6 L905.9,467.6 L904.9,467.5 L903.9,467.3 L902.9,467.4 L901.9,467.8 L900.9,467.6 L899.9,467.3 L898.9,467.3 L897.9,467.4 L896.9,467.7 L895.9,467.2 L894.9,467.3Z" fill="#818181" stroke="#818181" stroke-width="0.6"/>
<path d="M895.0,439.7 L896.0,439.4 L897.0,439.1 L898.0,439.5 L899.0,439.7 L900.0,439.2 L901.0,439.1 L902.0,439.2 L903.0,439.5 L904.0,439.5 L905.0,439.2 L906.0,439.2 L907.0,439.6 L908.0,439.4 L909.0,439.2 L910.0,439.2 L911.0,439.6 L912.0,439.7 L913.0,439.2 L914.0,439.5 L915.0,439.3 L916.0,439.7 L917.0,439.5 L918.0,439.4 L919.0,439.5 L920.0,439.7 L921.0,439.4 L922.0,439.3 L923.0,439.3 L924.0,439.6 L925.0,439.6 L926.0,439.3 L927.0,439.6 L928.0,439.6 L929.0,439.9 L930.0,439.6 L931.0,439.6 L932.0,439.6 L933.0,439.8 L934.0,439.5 L935.0,439.4 L936.0,439.7 L937.0,440.0 L938.0,439.6 L939.0,439.7 L940.0,439.7 L941.0,440.2 L942.0,439.8 L943.0,439.4 L944.0,439.7 L945.0,439.9 L946.0,439.8 L947.0,439.5 L948.0,439.7 L949.0,440.1 L950.0,439.7 L951.0,439.7 L952.0,439.8 L953.0,440.2 L954.0,440.0 L955.0,439.7 L956.0,439.7 L957.0,439.8 L958.0,440.4 L959.1,439.8 L960.1,439.9 L961.1,439.9 L962.1,440.4 L963.2,440.1 L964.2,440.1 L965.2,440.0 L966.2,440.4 L967.2,440.4 L968.2,440.0 L969.2,440.4 L970.2,440.5 L971.2,440.6 L972.2,440.2 L973.2,440.2 L974.2,440.8 L975.2,440.6 L976.2,440.7 L977.2,440.6 L978.2,440.7 L979.1,441.2 L980.2,440.7 L981.2,440.6 L982.2,441.1 L983.2,441.1 L984.2,441.1 L985.2,441.0 L986.2,440.9 L987.1,441.6 L988.2,441.1 L989.2,441.2 L990.2,441.0 L991.2,441.4 L992.2,441.4 L993.2,441.4 L994.2,441.5 L995.2,441.6 L996.2,441.6 L997.2,441.4 L998.2,441.4 L999.2,441.6 L1000.1,442.2 L1001.2,441.9 L1002.2,441.6 L1003.2,442.0 L1004.2,442.2 L1005.2,442.1 L1006.2,441.9 L1007.2,442.1 L1008.1,442.4 L1009.2,442.4 L1010.2,441.9 L1011.2,442.1 L1012.2,442.5 L1013.1,442.6 L1014.2,442.4 L1015.2,442.4 L1016.2,442.5 L1017.1,442.9 L1018.2,442.7 L1019.2,442.3 L1020.1,443.0 L1021.1,443.0 L1022.2,442.8 L1023.2,442.7 L1024.1,443.1 L1025.1,443.3 L1026.2,442.8 L1027.2,443.1 L1028.2,443.1 L1029.2,443.3 L1030.2,443.0 L1031.2,443.1 L1032.2,443.2 L1033.2,443.6 L1034.2,443.5 L1035.2,443.3 L1036.2,443.6 L1037.2,443.8 L1038.2,443.5 L1039.2,443.4 L1040.2,443.7 L1041.2,444.1 L1042.2,444.0 L1043.2,443.7 L1044.2,443.7 L1045.2,444.3 L1046.2,444.5 L1047.2,444.0 L1048.2,444.2 L1049.2,444.1 L1050.1,444.8 L1051.1,444.5 L1052.1,444.2 L1053.1,444.2 L1054.1,444.6 L1055.1,444.4 L1056.1,444.3 L1057.1,444.4 L1058.0,445.0 L1059.0,444.7 L1060.0,444.7 L1061.0,444.7 L1062.0,444.8 L1063.0,445.0 L1064.0,444.8 L1065.0,444.9 L1066.0,444.8 L1067.0,445.0 L1068.0,444.8 L1069.0,444.8 L1070.0,445.1 L1071.0,445.2 L1071.9,445.3 L1073.0,444.8 L1073.9,445.2 L1074.9,445.6 L1075.9,445.4 L1076.9,445.2 L1077.9,445.2 L1078.9,445.6 L1079.9,445.5 L1080.9,445.2 L1081.9,445.5 L1082.9,445.6 L1083.8,445.8 L1084.8,445.5 L1085.8,445.6 L1086.8,445.7 L1087.9,445.9 L1088.9,445.5 L1089.9,445.6 L1090.9,445.7 L1091.9,446.0 L1092.9,445.9 L1093.9,446.0 L1095.0,446.0 L1096.0,446.2 L1097.0,446.3 L1098.0,446.2 L1099.0,446.1 L1100.0,446.7 L1101.0,446.5 L1102.0,446.2 L1103.0,446.6 L1104.0,446.8 L1105.0,446.7 L1106.0,446.8 L1107.1,446.6 L1108.0,447.0 L1109.1,446.8 L1110.0,446.8 L1110.7,446.9 L1111.0,447.3 L1111.0,447.5 L1110.9,447.5 L1111.1,447.2 L1111.8,446.6 L1112.6,445.6 L1113.4,444.1 L1115.1,442.4 L1117.3,442.9 L1118.7,444.1 L1119.9,444.6 L1120.9,445.1 L1121.7,445.7 L1122.3,446.6 L1123.3,446.8 L1124.3,447.0 L1125.1,447.6 L1125.9,448.2 L1126.8,448.6 L1127.8,449.0 L1128.5,449.3 L1129.1,449.3 L1129.5,449.5 L1129.9,449.4 L1130.5,448.9 L1131.7,448.9 L1133.2,449.0 L1134.7,449.2 L1136.0,449.7 L1136.9,450.4 L1137.7,451.4 L1138.7,451.8 L1139.9,452.2 L1140.6,453.3 L1141.3,454.3 L1142.2,454.9 L1143.0,455.6 L1143.6,456.5 L1144.2,457.4 L1144.8,458.3 L1145.9,458.8 L1146.6,459.6 L1147.2,460.5 L1147.5,461.6 L1148.4,462.2 L1149.0,463.0 L1149.5,463.8 L1149.8,464.8 L1150.4,465.6 L1151.3,466.2 L1151.7,467.0 L1151.9,468.1 L1152.6,468.7 L1153.6,469.1 L1154.1,469.9 L1154.7,470.7 L1155.5,471.3 L1156.0,472.2 L1156.7,472.9 L1157.3,473.7 L1158.0,474.5 L1158.9,475.0 L1159.7,475.7 L1160.2,476.6 L1160.8,477.5 L1161.7,478.2 L1162.4,479.0 L1162.8,480.0 L1162.9,481.1 L1163.7,481.8 L1164.3,482.5 L1164.9,483.2 L1165.1,484.3 L1165.8,485.0 L1166.6,485.6 L1166.9,486.6 L1167.4,487.5 L1168.0,488.4 L1168.8,489.1 L1169.1,490.2 L1169.7,491.0 L1170.2,491.9 L1170.9,492.8 L1171.5,493.6 L1171.7,494.7 L1172.3,495.6 L1173.0,496.4 L1173.8,497.2 L1174.3,498.1 L1174.6,499.2 L1175.2,500.0 L1175.9,500.8 L1176.4,501.7 L1176.8,502.7 L1177.4,503.6 L1178.3,504.2 L1178.7,505.2 L1179.1,506.2 L1179.5,507.1 L1180.5,507.8 L1180.8,508.8 L1181.2,509.8 L1181.8,510.6 L1182.3,511.6 L1182.8,512.4 L1183.1,513.5 L1183.9,514.2 L1184.7,514.9 L1185.2,515.8 L1185.6,516.8 L1185.7,517.9 L1186.8,518.5 L1187.1,519.5 L1187.4,520.5 L1187.8,521.5 L1188.8,522.1 L1189.3,523.0 L1189.8,523.9 L1190.0,524.9 L1190.6,525.8 L1191.4,526.5 L1191.6,527.6 L1192.0,528.5 L1192.6,529.3 L1193.2,530.2 L1193.8,531.0 L1194.0,532.1 L1194.6,532.9 L1195.1,533.8 L1195.8,534.6 L1196.2,535.5 L1196.6,536.5 L1197.1,537.4 L1197.5,538.3 L1198.2,539.1 L1198.3,540.1 L1198.9,541.0 L1199.5,541.8 L1199.9,542.8 L1200.3,543.7 L1200.8,544.6 L1201.5,545.4 L1201.9,546.3 L1202.2,547.3 L1202.8,548.1 L1203.3,549.0 L1204.0,549.7 L1204.0,550.9 L1204.5,551.7 L1205.2,552.6 L1205.7,553.4 L1206.1,554.3 L1206.6,555.2 L1207.1,556.1 L1207.7,556.9 L1208.1,557.8 L1208.4,558.8 L1209.0,559.6 L1209.6,560.4 L1209.8,561.5 L1209.9,562.5 L1210.9,563.2 L1211.4,564.0 L1211.6,565.0 L1212.2,565.9 L1212.6,566.8 L1213.1,567.7 L1213.8,568.4 L1214.0,569.5 L1214.4,570.4 L1215.0,571.2 L1215.6,572.0 L1215.9,573.0 L1216.2,573.9 L1217.0,574.7 L1217.2,575.7 L1217.4,576.7 L1217.9,577.5 L1218.5,578.3 L1218.8,579.3 L1219.2,580.2 L1219.5,581.2 L1220.4,581.9 L1220.6,582.8 L1221.1,583.7 L1221.2,584.8 L1222.0,585.5 L1222.7,586.2 L1222.9,587.3 L1223.0,588.3 L1223.7,589.1 L1224.2,589.9 L1224.6,590.8 L1225.1,591.7 L1225.3,592.7 L1226.1,593.4 L1226.3,594.4 L1226.7,595.3 L1226.8,596.3 L1227.8,597.0 L1228.4,597.8 L1228.7,598.8 L1228.6,599.9 L1229.3,600.6 L1229.7,601.5 L1230.1,602.5 L1230.3,603.5 L1231.0,604.2 L1231.4,605.1 L1232.0,605.9 L1232.3,606.9 L1232.6,607.8 L1233.4,608.5 L1233.7,609.5 L1233.9,610.5 L1234.2,611.4 L1235.0,612.1 L1235.6,612.9 L1235.7,614.0 L1236.1,614.9 L1236.6,615.7 L1237.0,616.6 L1237.4,617.5 L1237.6,618.5 L1238.2,619.3 L1238.9,620.1 L1239.3,621.0 L1239.1,622.1 L1239.9,622.9 L1240.6,623.6 L1240.8,624.6 L1241.0,625.6 L1241.5,626.4 L1242.2,627.2 L1242.3,628.2 L1242.6,629.2 L1243.3,629.9 L1243.8,630.8 L1244.3,631.6 L1244.3,632.7 L1244.7,633.6 L1245.6,634.3 L1245.8,635.3 L1246.0,636.3 L1246.2,637.2 L1246.8,638.0 L1247.4,638.9 L1247.8,639.8 L1248.1,640.7 L1248.8,641.5 L1249.1,642.4 L1249.3,643.4 L1249.6,644.3 L1250.3,645.1 L1250.7,646.0 L1251.0,646.9 L1251.2,647.9 L1251.9,648.6 L1252.3,649.6 L1253.0,650.3 L1252.9,651.4 L1253.6,652.2 L1254.3,653.0 L1254.5,653.9 L1254.7,654.9 L1255.0,655.9 L1255.6,656.7 L1256.1,657.5 L1256.3,658.5 L1256.8,659.3 L1257.5,660.1 L1257.8,661.1 L1258.2,662.0 L1258.3,663.1 L1259.0,663.9 L1259.7,664.8 L1254.5,667.2 L1254.1,666.2 L1254.2,665.0 L1253.2,664.3 L1252.6,663.5 L1252.5,662.4 L1252.1,661.6 L1251.8,660.6 L1250.9,659.9 L1250.9,658.9 L1250.7,657.9 L1249.8,657.2 L1249.6,656.2 L1249.0,655.4 L1249.0,654.3 L1248.3,653.6 L1247.9,652.7 L1247.6,651.8 L1247.1,650.9 L1246.6,650.0 L1246.0,649.2 L1245.5,648.4 L1245.6,647.3 L1245.3,646.3 L1244.7,645.5 L1243.9,644.8 L1244.0,643.7 L1243.6,642.8 L1242.8,642.1 L1242.6,641.1 L1242.2,640.2 L1241.7,639.4 L1241.5,638.4 L1240.8,637.6 L1240.2,636.8 L1240.3,635.7 L1239.6,634.9 L1239.2,634.0 L1238.8,633.1 L1238.3,632.3 L1238.1,631.3 L1237.4,630.5 L1236.8,629.7 L1236.8,628.6 L1236.5,627.7 L1236.0,626.8 L1235.2,626.2 L1234.9,625.2 L1234.9,624.1 L1234.3,623.3 L1233.7,622.5 L1233.4,621.6 L1233.2,620.6 L1232.4,619.9 L1232.1,618.9 L1231.6,618.1 L1231.4,617.1 L1230.8,616.3 L1230.3,615.4 L1229.8,614.6 L1229.9,613.5 L1229.4,612.6 L1228.5,611.9 L1228.1,611.0 L1228.1,609.9 L1227.6,609.1 L1226.9,608.3 L1226.5,607.4 L1226.3,606.4 L1225.9,605.5 L1225.4,604.7 L1224.8,603.9 L1224.5,602.9 L1224.5,601.8 L1223.9,601.1 L1223.0,600.4 L1222.7,599.4 L1222.7,598.4 L1222.1,597.5 L1221.4,596.8 L1221.2,595.8 L1220.9,594.8 L1220.2,594.1 L1219.7,593.2 L1219.1,592.4 L1219.0,591.4 L1218.7,590.4 L1218.1,589.6 L1217.3,588.9 L1217.0,587.9 L1216.9,586.9 L1216.4,586.0 L1215.8,585.2 L1215.5,584.3 L1215.1,583.3 L1214.6,582.5 L1213.9,581.8 L1213.5,580.8 L1213.5,579.7 L1213.0,578.9 L1212.0,578.2 L1211.6,577.3 L1211.6,576.2 L1211.1,575.4 L1210.3,574.7 L1210.0,573.7 L1209.5,572.8 L1209.1,571.9 L1208.6,571.1 L1208.3,570.1 L1208.0,569.1 L1207.7,568.2 L1206.9,567.4 L1206.3,566.7 L1206.0,565.7 L1205.8,564.7 L1205.1,563.9 L1204.7,563.0 L1204.2,562.1 L1204.0,561.1 L1203.3,560.4 L1202.8,559.5 L1202.2,558.6 L1201.9,557.7 L1201.4,556.8 L1200.7,556.0 L1200.4,555.1 L1199.9,554.2 L1199.5,553.3 L1199.1,552.3 L1198.6,551.5 L1198.3,550.5 L1197.7,549.7 L1197.0,548.9 L1196.5,548.0 L1196.0,547.1 L1196.2,545.9 L1195.2,545.3 L1194.8,544.4 L1194.2,543.6 L1194.2,542.4 L1193.5,541.6 L1192.7,540.9 L1192.3,540.0 L1191.9,539.0 L1191.5,538.1 L1190.6,537.5 L1190.2,536.6 L1190.2,535.4 L1189.4,534.6 L1189.0,533.7 L1188.4,532.9 L1188.0,531.9 L1187.5,531.0 L1187.0,530.2 L1186.3,529.4 L1186.0,528.4 L1185.7,527.4 L1184.9,526.7 L1184.2,525.9 L1184.0,524.8 L1183.5,523.9 L1182.9,523.1 L1182.1,522.4 L1181.9,521.3 L1181.5,520.4 L1181.0,519.5 L1180.0,518.9 L1179.7,517.9 L1179.5,516.8 L1178.8,516.0 L1178.3,515.1 L1177.7,514.2 L1177.4,513.2 L1176.6,512.5 L1176.2,511.6 L1175.4,510.8 L1175.1,509.8 L1174.8,508.8 L1173.9,508.1 L1173.4,507.2 L1173.0,506.2 L1172.7,505.2 L1171.9,504.5 L1171.3,503.6 L1170.5,502.9 L1170.4,501.7 L1169.8,500.9 L1169.0,500.1 L1168.6,499.1 L1168.1,498.2 L1167.6,497.3 L1166.9,496.5 L1166.3,495.7 L1165.9,494.7 L1165.4,493.7 L1164.6,493.0 L1164.0,492.1 L1163.5,491.2 L1163.2,490.2 L1162.2,489.6 L1161.7,488.8 L1161.3,487.9 L1161.0,487.0 L1160.2,486.3 L1159.6,485.6 L1159.3,484.6 L1159.1,483.7 L1158.2,483.1 L1157.6,482.5 L1156.9,481.9 L1156.7,480.9 L1155.9,480.4 L1155.1,479.8 L1154.6,478.9 L1153.9,478.2 L1153.2,477.5 L1152.6,476.6 L1151.8,476.0 L1151.2,475.2 L1150.8,474.2 L1149.6,473.8 L1149.1,472.9 L1148.5,472.0 L1148.0,471.0 L1147.2,470.3 L1146.5,469.6 L1145.9,468.8 L1145.6,467.8 L1144.9,467.1 L1144.3,466.3 L1143.6,465.7 L1143.4,464.6 L1142.8,463.9 L1141.8,463.5 L1141.5,462.5 L1141.0,461.7 L1140.2,461.0 L1139.4,460.3 L1138.7,459.6 L1138.0,458.9 L1137.4,458.1 L1136.8,457.5 L1135.9,457.3 L1135.6,456.6 L1134.9,456.2 L1134.0,456.4 L1133.3,456.2 L1133.0,455.8 L1132.7,455.5 L1132.4,455.8 L1131.6,456.1 L1130.5,456.4 L1129.0,456.2 L1127.4,456.0 L1126.0,455.7 L1125.0,454.8 L1124.1,454.2 L1123.1,453.8 L1122.0,453.6 L1121.2,452.8 L1120.3,452.1 L1119.2,451.7 L1118.2,451.2 L1117.4,450.5 L1116.6,450.0 L1116.1,449.4 L1115.7,449.6 L1116.4,449.9 L1116.9,449.2 L1116.6,448.9 L1116.5,449.5 L1116.1,450.5 L1115.3,451.6 L1114.0,452.5 L1112.7,453.9 L1111.1,454.2 L1109.8,453.9 L1108.7,453.7 L1107.7,453.8 L1106.6,453.9 L1105.6,453.8 L1104.6,453.7 L1103.6,453.4 L1102.6,453.8 L1101.6,453.5 L1100.6,453.4 L1099.6,453.4 L1098.6,453.6 L1097.6,453.5 L1096.6,453.1 L1095.6,452.8 L1094.5,453.4 L1093.5,453.3 L1092.5,452.9 L1091.5,452.9 L1090.5,452.8 L1089.5,453.1 L1088.5,452.9 L1087.5,452.7 L1086.6,452.7 L1085.6,453.0 L1084.6,452.9 L1083.6,452.4 L1082.6,452.4 L1081.6,452.4 L1080.6,452.5 L1079.6,452.6 L1078.7,452.3 L1077.6,452.7 L1076.7,452.4 L1075.7,452.4 L1074.7,451.9 L1073.7,452.4 L1072.7,452.4 L1071.7,452.3 L1070.7,451.7 L1069.7,452.2 L1068.7,452.2 L1067.7,452.2 L1066.8,451.7 L1065.8,451.9 L1064.8,452.1 L1063.8,452.0 L1062.8,451.7 L1061.8,451.7 L1060.8,452.0 L1059.8,451.8 L1058.8,451.8 L1057.8,451.5 L1056.8,452.0 L1055.8,451.6 L1054.8,451.6 L1053.9,451.2 L1052.8,451.7 L1051.8,451.8 L1050.8,451.7 L1049.8,451.3 L1048.8,451.3 L1047.8,451.3 L1046.8,451.2 L1045.8,450.9 L1044.8,451.2 L1043.8,451.3 L1042.8,451.3 L1041.8,451.1 L1040.8,451.0 L1039.8,451.1 L1038.8,451.2 L1037.8,450.7 L1036.8,450.8 L1035.8,450.8 L1034.8,450.9 L1033.8,450.5 L1032.8,450.5 L1031.8,450.7 L1030.8,450.6 L1029.8,450.5 L1028.8,450.1 L1027.8,450.4 L1026.8,450.3 L1025.8,450.3 L1024.9,450.0 L1023.8,450.1 L1022.8,450.2 L1021.8,450.3 L1020.9,449.8 L1019.8,450.0 L1018.8,450.3 L1017.8,449.9 L1016.9,449.6 L1015.9,449.5 L1014.8,449.9 L1013.8,450.0 L1012.8,449.6 L1011.8,449.7 L1010.8,449.5 L1009.8,449.9 L1008.8,449.7 L1007.8,449.4 L1006.8,449.4 L1005.8,449.8 L1004.8,449.6 L1003.9,449.1 L1002.8,449.6 L1001.8,449.5 L1000.8,449.3 L999.8,449.2 L998.8,449.2 L997.8,449.5 L996.8,449.3 L995.9,448.7 L994.8,448.8 L993.8,448.9 L992.8,449.0 L991.8,448.9 L990.8,448.9 L989.8,448.8 L988.8,449.2 L987.8,449.0 L986.8,448.7 L985.8,448.6 L984.8,448.8 L983.8,448.6 L982.9,448.2 L981.8,448.4 L980.8,448.6 L979.8,448.6 L978.9,448.1 L977.8,448.5 L976.8,448.3 L975.8,448.2 L974.8,448.1 L973.8,448.2 L972.8,448.2 L971.8,448.2 L970.8,447.9 L969.9,447.7 L968.8,448.1 L967.8,448.0 L966.8,447.8 L965.8,447.8 L964.8,447.7 L963.8,447.9 L962.8,447.8 L961.9,447.4 L960.9,447.7 L959.9,447.8 L958.9,447.9 L958.0,447.2 L957.0,447.7 L956.0,447.7 L955.0,447.7 L954.0,447.3 L953.0,447.6 L952.0,447.8 L951.0,447.6 L950.0,447.5 L949.0,447.4 L948.0,447.8 L947.0,447.8 L946.0,447.6 L945.0,447.5 L944.0,447.7 L943.0,447.7 L942.0,447.8 L941.0,447.5 L940.0,447.5 L939.0,447.7 L938.0,447.4 L937.0,447.2 L936.0,447.8 L935.0,448.0 L934.0,447.6 L933.0,447.2 L932.0,447.3 L931.0,447.9 L930.0,447.5 L929.0,447.6 L928.0,447.7 L927.0,447.5 L926.0,447.7 L925.0,447.4 L924.0,447.4 L923.0,447.9 L922.0,447.6 L921.0,447.8 L920.0,447.5 L919.0,447.8 L918.0,447.8 L917.0,447.5 L916.0,447.2 L915.0,447.5 L914.0,447.6 L913.0,447.4 L912.0,447.5 L911.0,447.6 L910.0,447.9 L909.0,447.8 L908.0,447.4 L907.0,447.2 L906.0,447.7 L905.0,447.5 L904.0,447.5 L903.0,447.5 L902.0,447.4 L901.0,447.6 L900.0,447.5 L899.0,447.2 L898.0,447.7 L897.0,447.5 L896.0,447.6 L895.0,447.2Z" fill="#d52028" stroke="#d52028" stroke-width="0.6"/>
<path d="M895.0,457.6 L896.0,457.3 L897.0,457.3 L898.0,457.0 L899.0,457.4 L900.0,457.3 L901.0,457.3 L902.0,457.3 L903.0,457.3 L904.0,457.3 L905.0,457.3 L906.0,457.1 L907.0,457.3 L908.0,457.4 L909.0,457.2 L910.0,457.2 L911.0,457.2 L912.0,457.6 L913.0,457.1 L914.0,457.1 L915.0,457.4 L916.0,457.7 L917.0,457.6 L918.0,457.1 L919.0,457.6 L920.0,457.8 L921.0,457.5 L922.0,457.1 L923.0,457.5 L924.0,457.6 L925.0,457.7 L926.0,457.5 L927.0,457.2 L928.0,457.9 L929.0,457.6 L930.0,457.6 L931.0,457.6 L932.0,457.9 L933.0,457.6 L934.0,457.4 L935.0,457.7 L936.0,457.4 L937.0,457.9 L938.0,457.6 L939.0,457.6 L940.0,457.7 L941.0,458.0 L942.0,457.8 L943.0,457.8 L944.0,457.5 L945.0,458.0 L946.0,457.6 L947.0,457.7 L948.0,457.9 L949.0,457.8 L950.0,458.1 L951.0,457.8 L952.0,457.8 L953.0,457.8 L954.0,457.8 L955.0,457.9 L956.0,457.9 L957.0,458.0 L958.0,458.0 L959.0,458.0 L960.1,457.9 L961.1,458.0 L962.1,458.4 L963.1,457.8 L964.1,457.6 L965.1,457.8 L966.1,458.1 L967.1,458.1 L968.1,458.1 L969.1,457.8 L970.1,458.4 L971.1,458.1 L972.1,457.9 L973.1,458.0 L974.1,458.5 L975.1,458.2 L976.1,458.0 L977.1,458.1 L978.1,458.2 L979.1,458.4 L980.1,458.5 L981.1,458.2 L982.1,458.3 L983.1,458.9 L984.1,458.3 L985.1,458.2 L986.1,458.4 L987.1,458.6 L988.1,458.5 L989.1,458.4 L990.1,458.4 L991.1,458.9 L992.1,459.0 L993.1,458.6 L994.1,458.5 L995.1,459.1 L996.1,458.8 L997.1,458.9 L998.1,458.6 L999.1,458.9 L1000.1,459.0 L1001.1,459.0 L1002.1,458.6 L1003.1,459.2 L1004.1,459.1 L1005.1,459.0 L1006.1,458.8 L1007.1,458.9 L1008.1,459.5 L1009.1,459.2 L1010.1,459.2 L1011.1,459.3 L1012.1,459.4 L1013.1,459.3 L1014.1,459.0 L1015.1,459.3 L1016.1,459.5 L1017.1,459.5 L1018.1,459.4 L1019.1,459.3 L1020.1,459.3 L1021.1,459.5 L1022.1,459.5 L1023.1,459.4 L1024.1,459.6 L1025.1,459.7 L1026.1,459.6 L1027.1,459.3 L1028.1,459.5 L1029.1,460.1 L1030.1,459.5 L1031.2,459.4 L1032.2,459.7 L1033.2,460.0 L1034.2,460.0 L1035.2,459.9 L1036.2,459.9 L1037.1,460.4 L1038.2,460.0 L1039.2,459.9 L1040.2,459.8 L1041.2,460.3 L1042.2,460.4 L1043.2,460.1 L1044.2,460.4 L1045.2,460.4 L1046.2,460.6 L1047.2,460.5 L1048.2,460.4 L1049.2,460.4 L1050.2,461.0 L1051.2,460.8 L1052.2,460.4 L1053.2,460.8 L1054.2,461.0 L1055.2,461.0 L1056.2,461.0 L1057.2,460.9 L1058.1,461.4 L1059.1,461.2 L1060.1,461.3 L1061.1,461.0 L1062.1,461.4 L1063.1,461.8 L1064.1,461.5 L1065.1,461.2 L1066.1,461.8 L1067.1,461.9 L1068.1,461.8 L1069.1,461.5 L1070.1,461.6 L1071.0,462.1 L1072.0,462.1 L1073.0,461.9 L1074.0,462.2 L1075.0,462.5 L1076.0,462.1 L1077.0,462.0 L1078.0,462.0 L1079.0,462.5 L1080.0,462.4 L1081.0,462.3 L1082.0,462.3 L1082.9,462.9 L1083.9,462.6 L1084.9,462.6 L1086.0,462.5 L1086.9,462.9 L1087.9,463.3 L1089.0,463.1 L1090.0,463.0 L1091.0,463.0 L1092.0,463.6 L1093.0,463.2 L1094.0,463.3 L1095.0,463.2 L1096.0,463.6 L1097.0,463.6 L1098.1,463.3 L1099.1,463.8 L1100.1,463.8 L1101.1,463.9 L1102.1,463.8 L1103.1,463.9 L1104.1,464.1 L1105.1,464.4 L1106.1,464.1 L1107.1,464.0 L1108.1,464.3 L1109.1,464.6 L1110.2,464.4 L1111.2,464.3 L1112.2,465.0 L1113.3,465.1 L1114.4,464.9 L1115.4,465.2 L1116.4,465.2 L1117.4,465.7 L1118.4,465.5 L1119.4,465.7 L1120.3,465.8 L1121.2,466.4 L1122.3,466.3 L1123.3,466.4 L1124.3,466.8 L1125.4,467.2 L1126.6,467.7 L1127.8,468.0 L1128.8,468.7 L1129.6,469.3 L1130.3,470.1 L1131.4,470.2 L1132.2,470.8 L1132.8,471.6 L1133.8,471.9 L1134.7,472.2 L1135.6,472.8 L1136.4,473.7 L1137.1,474.6 L1138.1,475.3 L1139.0,475.9 L1139.7,476.8 L1140.2,477.8 L1141.1,478.3 L1142.0,478.9 L1142.8,479.6 L1143.3,480.6 L1144.0,481.3 L1145.2,481.7 L1145.7,482.8 L1146.2,483.9 L1146.9,484.7 L1147.8,485.4 L1148.2,486.3 L1148.7,487.2 L1149.2,488.1 L1150.1,488.6 L1150.8,489.4 L1151.4,490.3 L1152.0,491.1 L1153.0,491.6 L1153.5,492.6 L1154.4,493.3 L1154.8,494.3 L1155.6,494.9 L1156.3,495.7 L1156.7,496.7 L1157.1,497.7 L1158.0,498.3 L1158.8,499.0 L1159.5,499.7 L1159.7,500.9 L1160.4,501.6 L1161.4,502.2 L1162.0,503.0 L1162.4,504.0 L1163.2,504.7 L1163.8,505.5 L1164.4,506.3 L1164.8,507.2 L1165.5,508.0 L1166.2,508.7 L1166.9,509.5 L1167.4,510.3 L1167.8,511.3 L1168.6,512.0 L1169.2,512.8 L1170.0,513.4 L1170.2,514.5 L1170.9,515.2 L1171.8,515.8 L1172.4,516.6 L1172.5,517.8 L1173.3,518.4 L1174.1,519.1 L1174.6,519.9 L1174.9,521.0 L1175.4,521.8 L1176.3,522.4 L1176.9,523.1 L1177.2,524.1 L1177.7,524.9 L1178.7,525.5 L1179.1,526.4 L1179.6,527.2 L1180.0,528.1 L1180.7,528.9 L1181.5,529.5 L1182.0,530.3 L1182.2,531.3 L1182.7,532.2 L1183.7,532.7 L1184.2,533.5 L1184.4,534.6 L1184.9,535.4 L1185.7,536.0 L1186.1,536.9 L1186.4,537.8 L1187.2,538.5 L1187.7,539.3 L1188.1,540.2 L1188.8,540.9 L1188.9,541.9 L1189.7,542.6 L1190.6,543.3 L1191.0,544.2 L1191.3,545.3 L1192.2,546.0 L1192.9,546.8 L1193.0,548.0 L1193.5,548.9 L1194.1,549.8 L1195.0,550.4 L1195.4,551.4 L1195.8,552.4 L1196.3,553.3 L1196.9,554.2 L1197.5,555.0 L1197.8,556.0 L1198.3,557.0 L1199.1,557.8 L1199.6,558.6 L1200.1,559.5 L1200.5,560.5 L1201.4,561.2 L1201.9,562.1 L1202.3,563.1 L1202.6,564.1 L1203.4,564.8 L1204.0,565.7 L1204.6,566.5 L1204.7,567.6 L1205.4,568.4 L1206.0,569.3 L1206.4,570.2 L1206.6,571.3 L1207.3,572.1 L1208.1,572.8 L1208.7,573.7 L1208.7,574.8 L1209.2,575.7 L1210.2,576.3 L1210.3,577.4 L1210.6,578.4 L1211.3,579.2 L1211.9,580.0 L1212.5,580.9 L1212.8,581.8 L1213.1,582.9 L1214.0,583.5 L1214.3,584.5 L1215.0,585.3 L1215.1,586.4 L1215.9,587.1 L1216.3,588.0 L1216.5,589.0 L1217.1,589.9 L1217.6,590.8 L1218.2,591.6 L1218.6,592.5 L1218.9,593.5 L1219.2,594.5 L1219.9,595.2 L1220.6,596.0 L1221.0,597.0 L1221.3,597.9 L1221.9,598.7 L1222.3,599.7 L1222.9,600.5 L1223.2,601.5 L1223.7,602.3 L1224.4,603.1 L1224.6,604.1 L1224.7,605.2 L1225.3,606.0 L1226.1,606.7 L1226.3,607.7 L1226.6,608.7 L1227.2,609.5 L1227.8,610.3 L1228.1,611.3 L1228.2,612.3 L1229.1,613.0 L1229.7,613.8 L1229.9,614.8 L1230.2,615.8 L1230.7,616.6 L1231.5,617.3 L1231.9,618.3 L1232.2,619.2 L1232.3,620.3 L1233.2,621.0 L1233.7,621.8 L1233.9,622.8 L1234.1,623.8 L1234.8,624.6 L1235.1,625.5 L1235.8,626.3 L1235.6,627.5 L1236.6,628.1 L1237.2,628.9 L1237.4,629.9 L1237.4,631.0 L1238.1,631.8 L1238.8,632.5 L1239.3,633.4 L1239.4,634.4 L1239.6,635.4 L1240.6,636.1 L1240.7,637.1 L1241.1,638.0 L1241.5,638.9 L1242.3,639.6 L1242.7,640.5 L1242.8,641.6 L1243.3,642.4 L1243.9,643.2 L1244.3,644.1 L1244.5,645.1 L1244.7,646.1 L1245.6,646.8 L1246.2,647.6 L1246.4,648.6 L1246.6,649.6 L1247.2,650.4 L1247.5,651.3 L1247.9,652.2 L1248.4,653.1 L1248.9,653.9 L1249.4,654.8 L1249.9,655.7 L1249.8,656.8 L1250.4,657.6 L1251.0,658.4 L1251.6,659.2 L1251.9,660.1 L1252.2,661.1 L1252.7,661.9 L1253.3,662.7 L1253.4,663.8 L1253.7,664.7 L1254.3,665.5 L1254.9,666.3 L1255.3,667.3 L1255.6,668.2 L1255.9,669.1 L1256.7,669.9 L1257.2,670.7 L1257.1,671.8 L1257.5,672.6 L1258.4,673.3 L1258.8,674.2 L1259.1,675.1 L1259.1,676.1 L1259.8,676.8 L1255.1,679.1 L1254.6,678.3 L1254.1,677.5 L1253.8,676.6 L1253.3,675.8 L1253.0,674.8 L1252.6,674.0 L1252.2,673.1 L1251.6,672.3 L1251.1,671.4 L1250.9,670.4 L1250.4,669.6 L1250.0,668.7 L1249.7,667.8 L1249.5,666.7 L1248.5,666.1 L1248.1,665.2 L1247.7,664.3 L1247.5,663.3 L1246.8,662.6 L1246.6,661.6 L1245.9,660.8 L1245.7,659.8 L1245.4,658.9 L1244.8,658.1 L1244.4,657.2 L1244.1,656.2 L1243.7,655.3 L1243.1,654.5 L1242.7,653.6 L1242.2,652.8 L1242.1,651.7 L1241.3,651.0 L1240.8,650.2 L1240.5,649.2 L1240.6,648.1 L1239.8,647.4 L1239.3,646.5 L1238.7,645.7 L1238.8,644.6 L1238.3,643.7 L1237.7,642.9 L1237.2,642.1 L1236.9,641.1 L1236.4,640.2 L1235.8,639.4 L1235.5,638.5 L1235.3,637.5 L1234.9,636.6 L1234.3,635.8 L1233.8,634.9 L1233.3,634.1 L1233.3,633.0 L1232.5,632.3 L1231.8,631.5 L1231.8,630.4 L1231.3,629.6 L1230.8,628.7 L1230.0,628.0 L1230.0,626.9 L1229.8,625.9 L1229.2,625.1 L1228.4,624.4 L1228.0,623.5 L1227.9,622.4 L1227.3,621.6 L1226.6,620.9 L1226.2,620.0 L1226.1,618.9 L1225.6,618.1 L1225.1,617.2 L1224.7,616.3 L1224.3,615.4 L1223.9,614.5 L1223.1,613.8 L1222.6,612.9 L1222.5,611.8 L1222.1,610.9 L1221.7,610.1 L1220.9,609.3 L1220.5,608.4 L1220.5,607.3 L1219.6,606.6 L1219.2,605.8 L1218.7,604.9 L1218.5,603.8 L1217.8,603.1 L1217.2,602.3 L1216.8,601.4 L1216.6,600.4 L1216.3,599.4 L1215.5,598.7 L1215.1,597.7 L1214.9,596.7 L1214.6,595.8 L1213.9,595.0 L1213.1,594.3 L1212.7,593.3 L1212.6,592.3 L1212.0,591.5 L1211.3,590.7 L1211.0,589.7 L1210.8,588.7 L1210.1,587.9 L1209.6,587.0 L1209.2,586.1 L1209.0,585.1 L1208.1,584.4 L1207.6,583.5 L1206.9,582.8 L1206.9,581.6 L1206.2,580.8 L1205.4,580.1 L1205.3,579.0 L1205.0,578.1 L1204.2,577.3 L1203.5,576.6 L1203.2,575.6 L1202.8,574.6 L1202.4,573.7 L1201.7,572.9 L1201.1,572.0 L1200.8,571.1 L1200.3,570.2 L1199.6,569.4 L1199.2,568.5 L1198.6,567.6 L1198.3,566.6 L1197.8,565.7 L1197.1,564.9 L1196.5,564.1 L1196.3,563.0 L1195.6,562.2 L1194.8,561.5 L1194.2,560.7 L1194.0,559.6 L1193.5,558.7 L1192.8,557.9 L1192.1,557.1 L1192.0,556.0 L1191.6,555.0 L1190.6,554.4 L1190.0,553.5 L1189.6,552.6 L1189.3,551.5 L1188.6,550.8 L1188.0,549.9 L1187.2,549.1 L1187.2,547.9 L1186.1,547.3 L1185.7,546.4 L1185.1,545.5 L1184.8,544.6 L1184.0,543.9 L1183.5,543.2 L1183.0,542.3 L1182.5,541.5 L1182.1,540.7 L1181.4,540.0 L1180.7,539.3 L1180.7,538.2 L1180.1,537.4 L1179.2,536.8 L1178.9,535.9 L1178.2,535.2 L1177.9,534.2 L1177.3,533.5 L1176.5,532.9 L1176.3,531.9 L1175.9,530.9 L1175.1,530.3 L1174.4,529.7 L1174.0,528.8 L1173.4,528.0 L1172.8,527.2 L1172.3,526.4 L1171.7,525.6 L1171.3,524.6 L1170.8,523.8 L1169.8,523.3 L1169.5,522.4 L1168.9,521.6 L1168.4,520.8 L1167.6,520.1 L1167.0,519.3 L1166.6,518.4 L1166.3,517.4 L1165.2,516.9 L1164.8,516.0 L1164.2,515.2 L1163.8,514.3 L1163.1,513.6 L1162.2,513.0 L1161.9,512.0 L1161.2,511.3 L1160.5,510.6 L1160.0,509.7 L1159.1,509.1 L1159.0,507.9 L1158.1,507.3 L1157.4,506.5 L1156.9,505.7 L1156.4,504.8 L1155.9,504.0 L1154.8,503.5 L1154.1,502.7 L1153.7,501.7 L1153.2,500.8 L1152.5,500.1 L1151.5,499.5 L1151.1,498.6 L1150.9,497.5 L1149.8,497.1 L1148.9,496.4 L1148.6,495.3 L1148.1,494.4 L1147.0,493.9 L1146.5,493.0 L1145.9,492.2 L1145.2,491.3 L1144.5,490.5 L1143.6,489.8 L1143.0,488.9 L1142.7,487.9 L1142.0,487.3 L1141.2,486.8 L1140.8,485.9 L1140.1,485.2 L1139.6,484.3 L1138.4,484.0 L1137.6,483.3 L1137.3,482.2 L1136.4,481.6 L1135.5,481.0 L1134.7,480.4 L1134.3,479.5 L1133.8,478.9 L1132.8,478.7 L1132.0,478.5 L1131.3,477.8 L1130.7,477.1 L1129.6,476.9 L1128.9,476.3 L1127.9,476.0 L1127.2,475.3 L1126.4,474.9 L1125.5,474.7 L1124.9,474.1 L1124.3,473.8 L1123.6,473.8 L1122.7,474.0 L1121.9,473.6 L1121.0,473.2 L1120.1,472.8 L1119.0,473.2 L1118.1,472.9 L1117.1,472.9 L1116.2,472.2 L1115.2,472.6 L1114.3,472.2 L1113.4,472.1 L1112.5,471.8 L1111.5,472.0 L1110.6,471.9 L1109.6,471.9 L1108.6,471.6 L1107.6,471.7 L1106.6,471.9 L1105.6,471.5 L1104.6,471.5 L1103.6,471.3 L1102.5,471.3 L1101.5,471.1 L1100.5,471.2 L1099.5,470.7 L1098.5,471.1 L1097.5,471.1 L1096.5,471.0 L1095.5,470.7 L1094.5,470.8 L1093.5,470.9 L1092.5,470.6 L1091.5,470.2 L1090.4,470.5 L1089.5,470.3 L1088.4,470.5 L1087.5,470.1 L1086.5,470.0 L1085.5,470.1 L1084.5,470.2 L1083.5,469.7 L1082.5,469.6 L1081.5,469.9 L1080.5,469.7 L1079.6,469.6 L1078.6,469.5 L1077.6,469.7 L1076.6,469.8 L1075.6,469.5 L1074.6,469.3 L1073.6,469.6 L1072.6,469.2 L1071.6,469.0 L1070.6,468.7 L1069.6,469.0 L1068.6,469.2 L1067.6,469.2 L1066.7,468.9 L1065.7,468.7 L1064.7,469.1 L1063.7,469.0 L1062.7,468.4 L1061.7,468.4 L1060.7,468.9 L1059.7,468.9 L1058.7,468.2 L1057.7,468.4 L1056.7,468.5 L1055.7,468.5 L1054.8,468.0 L1053.8,467.8 L1052.8,468.1 L1051.8,468.4 L1050.8,468.1 L1049.8,467.6 L1048.8,468.0 L1047.8,468.1 L1046.8,468.1 L1045.8,467.7 L1044.8,467.8 L1043.8,467.9 L1042.8,468.0 L1041.8,467.7 L1040.8,467.5 L1039.8,467.5 L1038.8,467.8 L1037.8,467.5 L1036.9,467.0 L1035.8,467.4 L1034.8,467.5 L1033.8,467.4 L1032.9,466.8 L1031.8,467.2 L1030.9,467.3 L1029.9,467.0 L1028.9,466.7 L1027.9,466.9 L1026.9,467.2 L1025.9,466.9 L1024.9,466.8 L1023.9,467.1 L1022.9,467.3 L1021.9,467.2 L1020.9,466.8 L1019.9,466.9 L1018.9,467.2 L1017.9,467.2 L1016.9,466.5 L1015.9,466.8 L1014.9,467.0 L1013.9,466.7 L1012.9,466.9 L1011.9,466.5 L1010.9,466.7 L1009.9,467.0 L1008.9,466.8 L1007.9,466.6 L1006.9,466.6 L1005.9,466.6 L1004.9,466.8 L1003.9,466.3 L1002.9,466.6 L1001.9,466.5 L1000.9,466.6 L999.9,466.2 L998.9,466.4 L997.9,466.4 L996.9,466.7 L995.9,466.3 L994.9,466.2 L993.9,466.6 L992.9,466.5 L991.9,466.1 L990.9,466.2 L989.9,466.5 L988.9,466.4 L987.9,466.1 L986.9,466.0 L985.9,466.4 L984.9,466.2 L983.9,466.0 L982.9,465.7 L981.9,466.4 L980.9,466.3 L979.9,466.0 L978.9,466.0 L977.9,465.9 L976.9,466.0 L975.9,466.3 L974.9,465.7 L973.9,466.1 L972.9,466.2 L971.9,466.1 L970.9,465.9 L969.9,465.8 L968.9,466.2 L967.9,466.2 L966.9,465.6 L965.9,465.7 L964.9,465.9 L963.9,465.9 L962.9,465.8 L961.9,465.3 L960.9,465.9 L959.9,465.7 L959.0,465.7 L958.0,465.5 L957.0,465.8 L956.0,465.8 L955.0,465.7 L954.0,465.5 L953.0,465.6 L952.0,465.8 L951.0,466.0 L950.0,465.5 L949.0,465.4 L948.0,465.6 L947.0,465.6 L946.0,465.6 L945.0,465.3 L944.0,465.6 L943.0,465.6 L942.0,465.4 L941.0,465.6 L940.0,465.5 L939.0,465.6 L938.0,465.8 L937.0,465.5 L936.0,465.7 L935.0,465.6 L934.0,465.9 L933.0,465.6 L932.0,465.6 L931.0,465.7 L930.0,465.6 L929.0,465.5 L928.0,465.3 L927.0,465.5 L926.0,465.7 L925.0,465.6 L924.0,465.3 L923.0,465.5 L922.0,465.5 L921.0,465.4 L920.0,465.3 L919.0,465.6 L918.0,465.5 L917.0,465.4 L916.0,465.2 L915.0,465.5 L914.0,465.8 L913.0,465.6 L912.0,465.2 L911.0,465.6 L910.0,465.4 L909.0,465.4 L908.0,465.4 L907.0,465.2 L906.0,465.7 L905.0,465.6 L904.0,465.2 L903.0,465.4 L902.0,465.7 L901.0,465.4 L900.0,465.3 L899.0,465.1 L898.0,465.6 L897.0,465.5 L896.0,465.3 L895.0,464.9Z" fill="#d52028" stroke="#d52028" stroke-width="0.6"/>
</g>
<rect x="895" y="416" width="357.70000000000005" height="310.20000000000005" fill="none" stroke="#000" stroke-width="2.2"/>
<text x="895.5" y="753.3" font-size="21" font-weight="bold" font-style="normal" fill="#000" text-anchor="middle">0.0</text>
<line x1="966.5" y1="726.2" x2="966.5" y2="722.0" stroke="#000" stroke-width="1.7"/>
<text x="967.0" y="753.3" font-size="21" font-weight="bold" font-style="normal" fill="#000" text-anchor="middle">0.2</text>
<line x1="1038.1" y1="726.2" x2="1038.1" y2="722.0" stroke="#000" stroke-width="1.7"/>
<text x="1038.6" y="753.3" font-size="21" font-weight="bold" font-style="normal" fill="#000" text-anchor="middle">0.4</text>
<line x1="1109.6" y1="726.2" x2="1109.6" y2="722.0" stroke="#000" stroke-width="1.7"/>
<text x="1110.1" y="753.3" font-size="21" font-weight="bold" font-style="normal" fill="#000" text-anchor="middle">0.6</text>
<line x1="1181.2" y1="726.2" x2="1181.2" y2="722.0" stroke="#000" stroke-width="1.7"/>
<text x="1181.7" y="753.3" font-size="21" font-weight="bold" font-style="normal" fill="#000" text-anchor="middle">0.8</text>
<text x="1253.2" y="753.3" font-size="21" font-weight="bold" font-style="normal" fill="#000" text-anchor="middle">1.0</text>
<line x1="930.8" y1="726.2" x2="930.8" y2="723.8000000000001" stroke="#000" stroke-width="1.5"/>
<line x1="1002.3" y1="726.2" x2="1002.3" y2="723.8000000000001" stroke="#000" stroke-width="1.5"/>
<line x1="1073.8" y1="726.2" x2="1073.8" y2="723.8000000000001" stroke="#000" stroke-width="1.5"/>
<line x1="1145.4" y1="726.2" x2="1145.4" y2="723.8000000000001" stroke="#000" stroke-width="1.5"/>
<line x1="1216.9" y1="726.2" x2="1216.9" y2="723.8000000000001" stroke="#000" stroke-width="1.5"/>
<text x="1085.5" y="789" font-size="22" font-weight="bold" font-style="normal" fill="#000" text-anchor="middle">Position (mm)</text>
<text x="833.8" y="623.4" font-size="22" font-weight="bold" font-style="normal" fill="#000" text-anchor="start" transform="rotate(-90 833.8 623.4)" textLength="109.5" lengthAdjust="spacingAndGlyphs"><tspan font-weight="normal" stroke="#000" stroke-width="0.7">Force </tspan>(µN)</text>
<path d="M1012,426.6 H961" stroke="#000" stroke-width="2.7" fill="none"/><polygon points="954.3,426.6 963.2,422.2 963.2,431" fill="#000"/>
<path d="M957.2,476.4 H1009" stroke="#000" stroke-width="2.7" fill="none"/><polygon points="1016.6,476.4 1007.7,472 1007.7,480.8" fill="#000"/>
<path d="M1060.8,426.5 H1151 V501.8 H1060.8 Z" fill="none" stroke="#000" stroke-width="2.9" stroke-dasharray="11.3 9.4"/>
<g fill="none" stroke="#000" stroke-width="2.9">
<path d="M919.3,568.2 H1129.5" stroke-dasharray="11.3 10.25" stroke-dashoffset="-1.4"/>
<path d="M920.7,568.2 V700" stroke-dasharray="11.3 10.25" stroke-dashoffset="3.3"/>
<path d="M1128.1,569.5 V700" stroke-dasharray="11.2 10.4"/>
<path d="M919.3,698.6 H927.2 M1125.6,698.6 H1129.5" />
<path d="M933.2,698.6 H1120" stroke-dasharray="11.3 10.25"/>
</g>
<text x="1168.3" y="474.6" font-size="20" font-weight="normal" font-style="normal" fill="#c8252b" text-anchor="start">CuMo<tspan font-size="13.5" dy="4.2">6</tspan><tspan dy="-4.2">S</tspan><tspan font-size="13.5" dy="4.2">8</tspan></text>
<text x="1096.5" y="538.2" font-size="20" font-weight="normal" font-style="normal" fill="#858585" text-anchor="start">Pt/C</text>
<path d="M940.2,601.3 L941.0,601.1 L941.8,601.0 L942.6,601.4 L943.4,601.6 L944.2,601.2 L945.0,601.1 L945.7,600.9 L946.5,601.3 L947.3,601.4 L948.1,601.3 L948.9,600.9 L949.7,600.8 L950.5,601.0 L951.3,601.2 L952.1,601.4 L952.9,600.9 L953.7,600.9 L954.5,600.9 L955.2,601.0 L956.0,601.7 L956.8,600.9 L957.6,600.8 L958.4,600.6 L959.2,600.8 L960.0,601.6 L960.8,601.1 L961.6,600.7 L962.4,600.9 L963.2,601.1 L964.0,601.3 L964.8,601.5 L965.6,600.9 L966.4,600.8 L967.2,600.7 L968.0,601.4 L968.8,601.5 L969.6,601.2 L970.4,600.9 L971.2,600.7 L972.0,601.1 L972.8,601.4 L973.3,600.3 L973.9,599.4 L974.4,598.8 L974.9,598.7 L975.5,598.3 L976.0,597.7 L976.6,596.7 L977.2,596.1 L977.8,596.0 L978.4,595.8 L979.0,595.3 L979.8,595.0 L980.6,594.9 L981.4,594.7 L982.2,595.5 L983.0,595.5 L983.6,595.9 L984.2,596.2 L984.8,596.4 L985.4,597.5 L986.0,598.4 L986.6,598.6 L987.2,598.6 L987.8,599.2 L988.4,600.1 L989.0,601.5 L989.7,601.1 L990.5,601.2 L991.2,601.4 L991.9,601.8 L992.6,602.2 L993.4,602.6 L994.1,602.4 L994.8,602.5 L995.5,602.5 L996.3,603.3 L997.0,604.1 L997.8,603.9 L998.5,603.5 L999.2,604.0 L1000.0,604.2 L1000.8,605.0 L1001.5,605.2 L1002.2,605.2 L1003.0,605.0 L1003.6,605.8 L1004.2,606.4 L1004.8,607.1 L1005.4,607.1 L1006.0,607.1 L1006.5,607.5 L1007.0,608.3 L1007.5,609.4 L1008.0,610.3 L1008.5,610.1 L1009.3,609.5 L1010.1,609.7 L1011.0,609.7 L1011.8,609.8 L1012.6,609.0 L1013.4,608.7 L1013.4,625.2 L1012.7,624.6 L1012.0,623.9 L1011.4,622.9 L1010.7,622.9 L1010.0,622.7 L1009.3,622.5 L1008.7,621.8 L1008.0,621.0 L1007.3,620.8 L1006.7,620.7 L1006.0,620.5 L1005.3,619.7 L1004.6,618.9 L1003.9,618.3 L1003.1,618.5 L1002.4,618.1 L1001.7,617.4 L1001.0,616.3 L1000.2,616.8 L999.3,617.2 L998.5,617.0 L997.7,616.9 L996.8,616.5 L996.0,616.9 L995.2,617.2 L994.5,617.2 L993.8,617.1 L993.0,616.7 L992.2,616.1 L991.5,616.8 L990.8,617.0 L990.0,616.9 L989.3,616.3 L988.6,615.8 L987.9,615.6 L987.1,615.8 L986.4,615.6 L985.7,615.3 L985.0,614.6 L984.2,614.2 L983.5,614.4 L982.7,614.8 L981.9,614.8 L981.2,614.5 L980.4,613.7 L979.6,614.0 L978.8,614.3 L978.1,614.3 L977.3,614.0 L976.5,613.6 L975.8,613.2 L975.0,613.7 L974.2,613.9 L973.4,613.9 L972.6,613.6 L971.8,613.1 L971.1,613.4 L970.3,613.9 L969.5,613.9 L968.7,613.5 L967.9,613.0 L967.1,613.1 L966.3,613.6 L965.5,613.8 L964.7,613.8 L963.9,613.4 L963.2,612.9 L962.4,613.3 L961.6,613.7 L960.8,613.6 L960.0,613.3 L959.2,612.9 L958.4,613.3 L957.6,613.6 L956.8,613.8 L956.0,613.5 L955.2,613.1 L954.5,613.1 L953.7,613.4 L952.9,613.8 L952.1,613.3 L951.3,613.0 L950.5,612.7 L949.7,613.5 L948.9,613.6 L948.1,613.7 L947.3,613.2 L946.5,612.5 L945.7,613.3 L945.0,613.5 L944.2,613.3 L943.4,613.4 L942.6,612.6 L941.8,613.0 L941.0,613.4 L940.2,613.6Z" fill="#d01f26"/>
<path d="M939.8,651.1 L940.6,651.3 L941.4,651.7 L942.2,651.7 L943.0,651.2 L943.8,651.3 L944.6,651.3 L945.4,652.0 L946.2,651.7 L947.0,651.5 L947.8,651.3 L948.6,651.3 L949.4,651.8 L950.2,652.0 L951.0,651.4 L951.8,651.3 L952.6,651.5 L953.4,651.6 L954.2,652.3 L955.0,651.7 L955.8,651.5 L956.6,651.2 L957.5,651.4 L958.3,652.2 L959.1,651.8 L959.9,651.3 L960.8,651.1 L961.6,651.4 L962.4,652.0 L963.2,651.5 L964.0,651.4 L964.9,651.2 L965.7,651.3 L966.5,651.9 L966.6,650.8 L966.7,649.9 L966.8,648.9 L966.9,648.2 L967.1,647.8 L967.2,647.2 L967.3,646.0 L967.4,645.1 L967.5,644.0 L967.7,643.7 L967.9,643.3 L968.1,641.8 L968.3,640.8 L968.5,639.8 L969.2,640.1 L969.9,639.8 L970.6,638.7 L971.3,638.2 L972.0,637.7 L972.8,637.9 L973.6,638.4 L974.4,637.7 L975.2,637.3 L976.0,637.5 L976.7,638.0 L977.3,638.5 L978.0,639.0 L978.7,638.6 L979.3,638.9 L980.0,639.6 L980.7,640.2 L981.3,640.8 L982.0,640.7 L982.6,640.8 L983.3,641.0 L984.0,642.0 L984.6,642.5 L985.3,642.9 L986.1,642.8 L986.8,642.7 L987.6,643.4 L988.4,643.7 L989.1,644.4 L989.9,644.1 L990.7,644.1 L991.5,644.5 L992.2,644.9 L993.0,645.6 L993.7,645.4 L994.5,645.2 L995.2,645.3 L996.0,645.9 L996.7,646.4 L997.4,646.3 L998.2,646.4 L998.9,646.2 L999.7,646.6 L1000.4,647.3 L1001.1,647.8 L1001.8,647.7 L1002.5,647.9 L1003.2,648.7 L1003.9,649.4 L1004.6,650.1 L1005.3,650.1 L1006.0,650.5 L1006.7,650.8 L1007.3,651.8 L1007.9,652.8 L1008.5,652.8 L1009.1,652.9 L1009.6,653.5 L1010.2,654.3 L1010.8,655.2 L1011.4,655.5 L1012.0,655.6 L1012.6,656.3 L1013.2,656.8 L1013.8,657.9 L1014.4,658.5 L1015.0,658.6 L1015.6,658.7 L1016.2,659.5 L1016.8,660.3 L1017.4,661.0 L1018.0,661.1 L1018.6,661.5 L1019.2,662.1 L1019.9,662.6 L1020.5,663.4 L1021.1,663.6 L1021.8,663.6 L1022.4,664.0 L1023.0,664.9 L1023.7,665.4 L1024.4,665.9 L1025.1,665.7 L1025.8,666.0 L1026.6,666.4 L1027.3,666.8 L1028.0,667.5 L1028.7,667.6 L1028.7,674.0 L1027.9,674.3 L1027.0,674.6 L1026.2,674.1 L1025.4,673.8 L1024.5,673.7 L1023.7,673.9 L1023.0,673.6 L1022.3,673.2 L1021.6,672.1 L1020.9,671.6 L1020.1,671.8 L1019.4,671.4 L1018.7,670.6 L1018.0,669.8 L1017.3,669.3 L1016.6,669.6 L1016.0,669.2 L1015.3,668.9 L1014.6,667.9 L1013.9,667.2 L1013.2,667.4 L1012.5,667.4 L1011.9,666.8 L1011.2,666.4 L1010.5,665.4 L1010.0,665.1 L1009.5,665.0 L1009.0,664.5 L1008.5,663.7 L1008.0,662.7 L1007.5,662.0 L1007.0,662.0 L1006.5,661.4 L1006.0,660.8 L1005.5,659.8 L1004.8,659.2 L1004.0,659.4 L1003.2,659.7 L1002.5,659.7 L1001.8,659.2 L1001.0,658.4 L1000.2,658.4 L999.5,658.5 L998.8,658.6 L998.0,658.6 L997.2,657.8 L996.5,657.1 L995.7,657.4 L995.0,657.5 L994.2,657.3 L993.4,656.6 L992.7,656.0 L991.9,656.1 L991.2,656.3 L990.4,656.0 L989.7,655.5 L989.0,654.5 L988.3,654.2 L987.6,654.3 L986.9,654.0 L986.3,653.5 L985.6,652.4 L984.9,652.2 L984.2,652.0 L983.5,651.9 L982.8,651.5 L982.0,650.9 L981.2,650.4 L980.4,650.8 L979.6,650.4 L978.8,650.2 L978.0,649.4 L977.2,649.2 L976.4,650.0 L975.6,650.4 L974.8,650.5 L974.0,649.9 L973.5,650.1 L973.0,651.6 L972.5,652.3 L972.0,653.2 L971.5,653.2 L971.0,653.6 L970.5,654.3 L970.1,655.6 L969.7,656.1 L969.2,656.9 L968.8,657.0 L968.4,657.4 L968.0,658.8 L967.4,659.3 L966.9,659.9 L966.3,660.2 L965.7,660.2 L965.1,661.4 L964.6,662.3 L964.0,662.5 L963.2,662.5 L962.4,662.0 L961.5,662.3 L960.7,662.9 L959.9,662.9 L959.1,662.7 L958.3,662.1 L957.5,662.2 L956.6,662.9 L955.8,662.7 L955.0,662.7 L954.2,662.2 L953.4,662.5 L952.6,662.7 L951.8,662.9 L951.0,662.5 L950.2,662.1 L949.4,662.2 L948.6,662.4 L947.8,662.8 L947.0,662.8 L946.2,662.2 L945.4,661.9 L944.6,662.3 L943.8,662.7 L943.0,662.7 L942.2,662.5 L941.4,662.0 L940.6,662.2 L939.8,662.7Z" fill="#868686"/>
<g>
</g>
<line x1="958.3" y1="594.4" x2="997" y2="594.4" stroke="#000" stroke-width="2.7" stroke-dasharray="3 3"/>
<line x1="958.3" y1="610.5" x2="1002" y2="610.5" stroke="#000" stroke-width="2.7" stroke-dasharray="3 3"/>
<line x1="977.2" y1="638.9" x2="1022.2" y2="638.9" stroke="#000" stroke-width="2.7" stroke-dasharray="3 3"/>
<line x1="948.2" y1="658.2" x2="1041" y2="658.2" stroke="#000" stroke-width="2.7" stroke-dasharray="3 3"/>
<line x1="1016.4" y1="596.3" x2="1016.4" y2="607.8" stroke="#000" stroke-width="2.6"/>
<polygon points="1016.4,591.3 1012.0,599.0999999999999 1020.8,599.0999999999999" fill="#000"/>
<polygon points="1016.4,612.8 1012.0,605.0 1020.8,605.0" fill="#000"/>
<line x1="1044.4" y1="635.5" x2="1044.4" y2="655.3" stroke="#000" stroke-width="2.6"/>
<polygon points="1044.4,630.5 1040.0,638.3 1048.8000000000002,638.3" fill="#000"/>
<polygon points="1044.4,660.3 1040.0,652.5 1048.8000000000002,652.5" fill="#000"/>
<text x="1032.2" y="609.4" font-size="20" font-weight="normal" font-style="normal" fill="#111" text-anchor="start">4.8 µN</text>
<text x="1060.2" y="653.7" font-size="20" font-weight="normal" font-style="normal" fill="#111" text-anchor="start">9.5 µN</text>
</g>
</svg>
</body></html>
